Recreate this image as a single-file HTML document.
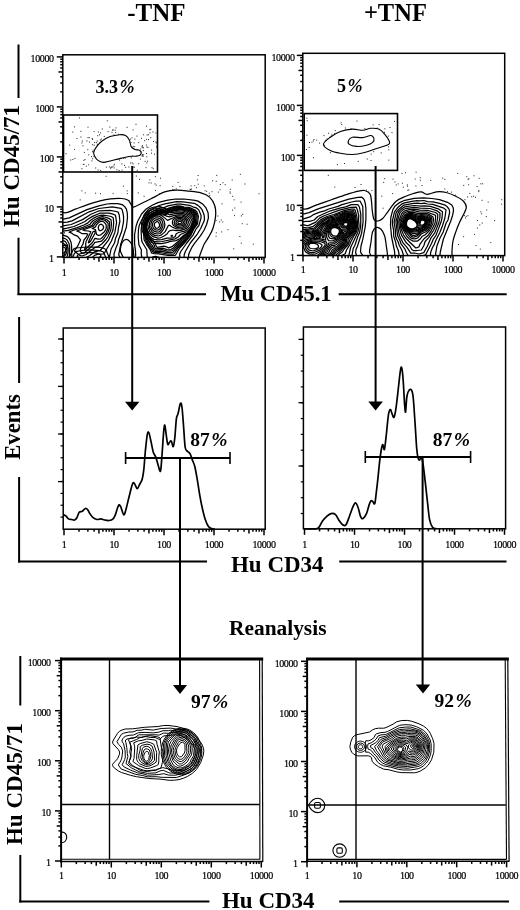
<!DOCTYPE html>
<html><head><meta charset="utf-8"><style>
html,body{margin:0;padding:0;background:#fff;width:520px;height:910px;overflow:hidden}
svg{display:block;filter:grayscale(100%)}
</style></head><body>
<svg width="520" height="910" viewBox="0 0 520 910">
<rect width="520" height="910" fill="#fff"/>
<defs><clipPath id="c1l"><rect x="62.8" y="54.8" width="202.39999999999998" height="202.59999999999997"/></clipPath><clipPath id="c1r"><rect x="302.8" y="53.3" width="201.89999999999998" height="202.3"/></clipPath><clipPath id="c3l"><rect x="61.1" y="659" width="198.50000000000003" height="200.29999999999995"/></clipPath><clipPath id="c3r"><rect x="307.1" y="659" width="198.39999999999998" height="200.39999999999998"/></clipPath></defs>
<text x="127.20" y="21.30" style="font-family:'Liberation Serif',serif;font-weight:bold;font-size:25px" text-anchor="start" >-TNF</text>
<text x="363.90" y="20.70" style="font-family:'Liberation Serif',serif;font-weight:bold;font-size:24.5px" text-anchor="start" >+TNF</text>
<line x1="18.50" y1="44.50" x2="18.50" y2="98.00" stroke="#000" stroke-width="2"/>
<line x1="18.50" y1="237.70" x2="18.50" y2="295.00" stroke="#000" stroke-width="2"/>
<line x1="17.50" y1="294.20" x2="206.00" y2="294.20" stroke="#000" stroke-width="2"/>
<line x1="338.70" y1="294.20" x2="506.70" y2="294.20" stroke="#000" stroke-width="2"/>
<text x="0" y="0" transform="translate(19.20,166.00) rotate(-90)" style="font-family:'Liberation Serif',serif;font-weight:bold;font-size:23px" text-anchor="middle">Hu CD45/71</text>
<text x="276.00" y="301.00" style="font-family:'Liberation Serif',serif;font-weight:bold;font-size:22.5px" text-anchor="middle" >Mu CD45.1</text>
<rect x="62.80" y="54.80" width="202.40" height="202.60" fill="none" stroke="#000" stroke-width="1.5"/>
<line x1="62.80" y1="256.90" x2="56.80" y2="256.90" stroke="#000" stroke-width="1.5"/>
<line x1="62.80" y1="241.85" x2="60.20" y2="241.85" stroke="#000" stroke-width="1.5"/>
<line x1="62.80" y1="233.04" x2="60.20" y2="233.04" stroke="#000" stroke-width="1.5"/>
<line x1="62.80" y1="226.80" x2="60.20" y2="226.80" stroke="#000" stroke-width="1.5"/>
<line x1="62.80" y1="221.95" x2="58.50" y2="221.95" stroke="#000" stroke-width="1.5"/>
<line x1="62.80" y1="217.99" x2="60.20" y2="217.99" stroke="#000" stroke-width="1.5"/>
<line x1="62.80" y1="214.65" x2="60.20" y2="214.65" stroke="#000" stroke-width="1.5"/>
<line x1="62.80" y1="211.75" x2="60.20" y2="211.75" stroke="#000" stroke-width="1.5"/>
<line x1="62.80" y1="209.19" x2="60.20" y2="209.19" stroke="#000" stroke-width="1.5"/>
<line x1="62.80" y1="206.90" x2="56.80" y2="206.90" stroke="#000" stroke-width="1.5"/>
<line x1="62.80" y1="191.85" x2="60.20" y2="191.85" stroke="#000" stroke-width="1.5"/>
<line x1="62.80" y1="183.04" x2="60.20" y2="183.04" stroke="#000" stroke-width="1.5"/>
<line x1="62.80" y1="176.80" x2="60.20" y2="176.80" stroke="#000" stroke-width="1.5"/>
<line x1="62.80" y1="171.95" x2="58.50" y2="171.95" stroke="#000" stroke-width="1.5"/>
<line x1="62.80" y1="167.99" x2="60.20" y2="167.99" stroke="#000" stroke-width="1.5"/>
<line x1="62.80" y1="164.65" x2="60.20" y2="164.65" stroke="#000" stroke-width="1.5"/>
<line x1="62.80" y1="161.75" x2="60.20" y2="161.75" stroke="#000" stroke-width="1.5"/>
<line x1="62.80" y1="159.19" x2="60.20" y2="159.19" stroke="#000" stroke-width="1.5"/>
<line x1="62.80" y1="156.90" x2="56.80" y2="156.90" stroke="#000" stroke-width="1.5"/>
<line x1="62.80" y1="141.85" x2="60.20" y2="141.85" stroke="#000" stroke-width="1.5"/>
<line x1="62.80" y1="133.04" x2="60.20" y2="133.04" stroke="#000" stroke-width="1.5"/>
<line x1="62.80" y1="126.80" x2="60.20" y2="126.80" stroke="#000" stroke-width="1.5"/>
<line x1="62.80" y1="121.95" x2="58.50" y2="121.95" stroke="#000" stroke-width="1.5"/>
<line x1="62.80" y1="117.99" x2="60.20" y2="117.99" stroke="#000" stroke-width="1.5"/>
<line x1="62.80" y1="114.65" x2="60.20" y2="114.65" stroke="#000" stroke-width="1.5"/>
<line x1="62.80" y1="111.75" x2="60.20" y2="111.75" stroke="#000" stroke-width="1.5"/>
<line x1="62.80" y1="109.19" x2="60.20" y2="109.19" stroke="#000" stroke-width="1.5"/>
<line x1="62.80" y1="106.90" x2="56.80" y2="106.90" stroke="#000" stroke-width="1.5"/>
<line x1="62.80" y1="91.85" x2="60.20" y2="91.85" stroke="#000" stroke-width="1.5"/>
<line x1="62.80" y1="83.04" x2="60.20" y2="83.04" stroke="#000" stroke-width="1.5"/>
<line x1="62.80" y1="76.80" x2="60.20" y2="76.80" stroke="#000" stroke-width="1.5"/>
<line x1="62.80" y1="71.95" x2="58.50" y2="71.95" stroke="#000" stroke-width="1.5"/>
<line x1="62.80" y1="67.99" x2="60.20" y2="67.99" stroke="#000" stroke-width="1.5"/>
<line x1="62.80" y1="64.65" x2="60.20" y2="64.65" stroke="#000" stroke-width="1.5"/>
<line x1="62.80" y1="61.75" x2="60.20" y2="61.75" stroke="#000" stroke-width="1.5"/>
<line x1="62.80" y1="59.19" x2="60.20" y2="59.19" stroke="#000" stroke-width="1.5"/>
<line x1="62.80" y1="56.90" x2="56.80" y2="56.90" stroke="#000" stroke-width="1.5"/>
<line x1="64.00" y1="257.40" x2="64.00" y2="263.40" stroke="#000" stroke-width="1.5"/>
<line x1="79.05" y1="257.40" x2="79.05" y2="260.00" stroke="#000" stroke-width="1.5"/>
<line x1="87.86" y1="257.40" x2="87.86" y2="260.00" stroke="#000" stroke-width="1.5"/>
<line x1="94.10" y1="257.40" x2="94.10" y2="260.00" stroke="#000" stroke-width="1.5"/>
<line x1="98.95" y1="257.40" x2="98.95" y2="261.70" stroke="#000" stroke-width="1.5"/>
<line x1="102.91" y1="257.40" x2="102.91" y2="260.00" stroke="#000" stroke-width="1.5"/>
<line x1="106.25" y1="257.40" x2="106.25" y2="260.00" stroke="#000" stroke-width="1.5"/>
<line x1="109.15" y1="257.40" x2="109.15" y2="260.00" stroke="#000" stroke-width="1.5"/>
<line x1="111.71" y1="257.40" x2="111.71" y2="260.00" stroke="#000" stroke-width="1.5"/>
<line x1="114.00" y1="257.40" x2="114.00" y2="263.40" stroke="#000" stroke-width="1.5"/>
<line x1="129.05" y1="257.40" x2="129.05" y2="260.00" stroke="#000" stroke-width="1.5"/>
<line x1="137.86" y1="257.40" x2="137.86" y2="260.00" stroke="#000" stroke-width="1.5"/>
<line x1="144.10" y1="257.40" x2="144.10" y2="260.00" stroke="#000" stroke-width="1.5"/>
<line x1="148.95" y1="257.40" x2="148.95" y2="261.70" stroke="#000" stroke-width="1.5"/>
<line x1="152.91" y1="257.40" x2="152.91" y2="260.00" stroke="#000" stroke-width="1.5"/>
<line x1="156.25" y1="257.40" x2="156.25" y2="260.00" stroke="#000" stroke-width="1.5"/>
<line x1="159.15" y1="257.40" x2="159.15" y2="260.00" stroke="#000" stroke-width="1.5"/>
<line x1="161.71" y1="257.40" x2="161.71" y2="260.00" stroke="#000" stroke-width="1.5"/>
<line x1="164.00" y1="257.40" x2="164.00" y2="263.40" stroke="#000" stroke-width="1.5"/>
<line x1="179.05" y1="257.40" x2="179.05" y2="260.00" stroke="#000" stroke-width="1.5"/>
<line x1="187.86" y1="257.40" x2="187.86" y2="260.00" stroke="#000" stroke-width="1.5"/>
<line x1="194.10" y1="257.40" x2="194.10" y2="260.00" stroke="#000" stroke-width="1.5"/>
<line x1="198.95" y1="257.40" x2="198.95" y2="261.70" stroke="#000" stroke-width="1.5"/>
<line x1="202.91" y1="257.40" x2="202.91" y2="260.00" stroke="#000" stroke-width="1.5"/>
<line x1="206.25" y1="257.40" x2="206.25" y2="260.00" stroke="#000" stroke-width="1.5"/>
<line x1="209.15" y1="257.40" x2="209.15" y2="260.00" stroke="#000" stroke-width="1.5"/>
<line x1="211.71" y1="257.40" x2="211.71" y2="260.00" stroke="#000" stroke-width="1.5"/>
<line x1="214.00" y1="257.40" x2="214.00" y2="263.40" stroke="#000" stroke-width="1.5"/>
<line x1="229.05" y1="257.40" x2="229.05" y2="260.00" stroke="#000" stroke-width="1.5"/>
<line x1="237.86" y1="257.40" x2="237.86" y2="260.00" stroke="#000" stroke-width="1.5"/>
<line x1="244.10" y1="257.40" x2="244.10" y2="260.00" stroke="#000" stroke-width="1.5"/>
<line x1="248.95" y1="257.40" x2="248.95" y2="261.70" stroke="#000" stroke-width="1.5"/>
<line x1="252.91" y1="257.40" x2="252.91" y2="260.00" stroke="#000" stroke-width="1.5"/>
<line x1="256.25" y1="257.40" x2="256.25" y2="260.00" stroke="#000" stroke-width="1.5"/>
<line x1="259.15" y1="257.40" x2="259.15" y2="260.00" stroke="#000" stroke-width="1.5"/>
<line x1="261.71" y1="257.40" x2="261.71" y2="260.00" stroke="#000" stroke-width="1.5"/>
<line x1="264.00" y1="257.40" x2="264.00" y2="263.40" stroke="#000" stroke-width="1.5"/>
<text x="53.60" y="262.40" style="font-family:'Liberation Serif',serif;font-size:10px" text-anchor="end" letter-spacing="-0.4" stroke="#000" stroke-width="0.2">1</text>
<text x="53.60" y="212.40" style="font-family:'Liberation Serif',serif;font-size:10px" text-anchor="end" letter-spacing="-0.4" stroke="#000" stroke-width="0.2">10</text>
<text x="53.60" y="162.40" style="font-family:'Liberation Serif',serif;font-size:10px" text-anchor="end" letter-spacing="-0.4" stroke="#000" stroke-width="0.2">100</text>
<text x="53.60" y="112.40" style="font-family:'Liberation Serif',serif;font-size:10px" text-anchor="end" letter-spacing="-0.4" stroke="#000" stroke-width="0.2">1000</text>
<text x="53.60" y="62.40" style="font-family:'Liberation Serif',serif;font-size:10px" text-anchor="end" letter-spacing="-0.4" stroke="#000" stroke-width="0.2">10000</text>
<text x="64.00" y="275.50" style="font-family:'Liberation Serif',serif;font-size:10px" text-anchor="middle" letter-spacing="-0.4" stroke="#000" stroke-width="0.2">1</text>
<text x="114.00" y="275.50" style="font-family:'Liberation Serif',serif;font-size:10px" text-anchor="middle" letter-spacing="-0.4" stroke="#000" stroke-width="0.2">10</text>
<text x="164.00" y="275.50" style="font-family:'Liberation Serif',serif;font-size:10px" text-anchor="middle" letter-spacing="-0.4" stroke="#000" stroke-width="0.2">100</text>
<text x="214.00" y="275.50" style="font-family:'Liberation Serif',serif;font-size:10px" text-anchor="middle" letter-spacing="-0.4" stroke="#000" stroke-width="0.2">1000</text>
<text x="264.00" y="275.50" style="font-family:'Liberation Serif',serif;font-size:10px" text-anchor="middle" letter-spacing="-0.4" stroke="#000" stroke-width="0.2">10000</text>
<rect x="63.5" y="115" width="94" height="57" fill="none" stroke="#000" stroke-width="1.6"/>
<text x="95.50" y="92.50" style="font-family:'Liberation Serif',serif;font-weight:bold;font-size:18px" text-anchor="start" >3.3<tspan dx="1.5" style="font-style:italic">%</tspan></text>
<rect x="302.80" y="53.30" width="201.90" height="202.30" fill="none" stroke="#000" stroke-width="1.5"/>
<line x1="302.80" y1="255.40" x2="296.80" y2="255.40" stroke="#000" stroke-width="1.5"/>
<line x1="302.80" y1="240.35" x2="300.20" y2="240.35" stroke="#000" stroke-width="1.5"/>
<line x1="302.80" y1="231.54" x2="300.20" y2="231.54" stroke="#000" stroke-width="1.5"/>
<line x1="302.80" y1="225.30" x2="300.20" y2="225.30" stroke="#000" stroke-width="1.5"/>
<line x1="302.80" y1="220.45" x2="298.50" y2="220.45" stroke="#000" stroke-width="1.5"/>
<line x1="302.80" y1="216.49" x2="300.20" y2="216.49" stroke="#000" stroke-width="1.5"/>
<line x1="302.80" y1="213.15" x2="300.20" y2="213.15" stroke="#000" stroke-width="1.5"/>
<line x1="302.80" y1="210.25" x2="300.20" y2="210.25" stroke="#000" stroke-width="1.5"/>
<line x1="302.80" y1="207.69" x2="300.20" y2="207.69" stroke="#000" stroke-width="1.5"/>
<line x1="302.80" y1="205.40" x2="296.80" y2="205.40" stroke="#000" stroke-width="1.5"/>
<line x1="302.80" y1="190.35" x2="300.20" y2="190.35" stroke="#000" stroke-width="1.5"/>
<line x1="302.80" y1="181.54" x2="300.20" y2="181.54" stroke="#000" stroke-width="1.5"/>
<line x1="302.80" y1="175.30" x2="300.20" y2="175.30" stroke="#000" stroke-width="1.5"/>
<line x1="302.80" y1="170.45" x2="298.50" y2="170.45" stroke="#000" stroke-width="1.5"/>
<line x1="302.80" y1="166.49" x2="300.20" y2="166.49" stroke="#000" stroke-width="1.5"/>
<line x1="302.80" y1="163.15" x2="300.20" y2="163.15" stroke="#000" stroke-width="1.5"/>
<line x1="302.80" y1="160.25" x2="300.20" y2="160.25" stroke="#000" stroke-width="1.5"/>
<line x1="302.80" y1="157.69" x2="300.20" y2="157.69" stroke="#000" stroke-width="1.5"/>
<line x1="302.80" y1="155.40" x2="296.80" y2="155.40" stroke="#000" stroke-width="1.5"/>
<line x1="302.80" y1="140.35" x2="300.20" y2="140.35" stroke="#000" stroke-width="1.5"/>
<line x1="302.80" y1="131.54" x2="300.20" y2="131.54" stroke="#000" stroke-width="1.5"/>
<line x1="302.80" y1="125.30" x2="300.20" y2="125.30" stroke="#000" stroke-width="1.5"/>
<line x1="302.80" y1="120.45" x2="298.50" y2="120.45" stroke="#000" stroke-width="1.5"/>
<line x1="302.80" y1="116.49" x2="300.20" y2="116.49" stroke="#000" stroke-width="1.5"/>
<line x1="302.80" y1="113.15" x2="300.20" y2="113.15" stroke="#000" stroke-width="1.5"/>
<line x1="302.80" y1="110.25" x2="300.20" y2="110.25" stroke="#000" stroke-width="1.5"/>
<line x1="302.80" y1="107.69" x2="300.20" y2="107.69" stroke="#000" stroke-width="1.5"/>
<line x1="302.80" y1="105.40" x2="296.80" y2="105.40" stroke="#000" stroke-width="1.5"/>
<line x1="302.80" y1="90.35" x2="300.20" y2="90.35" stroke="#000" stroke-width="1.5"/>
<line x1="302.80" y1="81.54" x2="300.20" y2="81.54" stroke="#000" stroke-width="1.5"/>
<line x1="302.80" y1="75.30" x2="300.20" y2="75.30" stroke="#000" stroke-width="1.5"/>
<line x1="302.80" y1="70.45" x2="298.50" y2="70.45" stroke="#000" stroke-width="1.5"/>
<line x1="302.80" y1="66.49" x2="300.20" y2="66.49" stroke="#000" stroke-width="1.5"/>
<line x1="302.80" y1="63.15" x2="300.20" y2="63.15" stroke="#000" stroke-width="1.5"/>
<line x1="302.80" y1="60.25" x2="300.20" y2="60.25" stroke="#000" stroke-width="1.5"/>
<line x1="302.80" y1="57.69" x2="300.20" y2="57.69" stroke="#000" stroke-width="1.5"/>
<line x1="302.80" y1="55.40" x2="296.80" y2="55.40" stroke="#000" stroke-width="1.5"/>
<line x1="303.00" y1="255.60" x2="303.00" y2="261.60" stroke="#000" stroke-width="1.5"/>
<line x1="318.05" y1="255.60" x2="318.05" y2="258.20" stroke="#000" stroke-width="1.5"/>
<line x1="326.86" y1="255.60" x2="326.86" y2="258.20" stroke="#000" stroke-width="1.5"/>
<line x1="333.10" y1="255.60" x2="333.10" y2="258.20" stroke="#000" stroke-width="1.5"/>
<line x1="337.95" y1="255.60" x2="337.95" y2="259.90" stroke="#000" stroke-width="1.5"/>
<line x1="341.91" y1="255.60" x2="341.91" y2="258.20" stroke="#000" stroke-width="1.5"/>
<line x1="345.25" y1="255.60" x2="345.25" y2="258.20" stroke="#000" stroke-width="1.5"/>
<line x1="348.15" y1="255.60" x2="348.15" y2="258.20" stroke="#000" stroke-width="1.5"/>
<line x1="350.71" y1="255.60" x2="350.71" y2="258.20" stroke="#000" stroke-width="1.5"/>
<line x1="353.00" y1="255.60" x2="353.00" y2="261.60" stroke="#000" stroke-width="1.5"/>
<line x1="368.05" y1="255.60" x2="368.05" y2="258.20" stroke="#000" stroke-width="1.5"/>
<line x1="376.86" y1="255.60" x2="376.86" y2="258.20" stroke="#000" stroke-width="1.5"/>
<line x1="383.10" y1="255.60" x2="383.10" y2="258.20" stroke="#000" stroke-width="1.5"/>
<line x1="387.95" y1="255.60" x2="387.95" y2="259.90" stroke="#000" stroke-width="1.5"/>
<line x1="391.91" y1="255.60" x2="391.91" y2="258.20" stroke="#000" stroke-width="1.5"/>
<line x1="395.25" y1="255.60" x2="395.25" y2="258.20" stroke="#000" stroke-width="1.5"/>
<line x1="398.15" y1="255.60" x2="398.15" y2="258.20" stroke="#000" stroke-width="1.5"/>
<line x1="400.71" y1="255.60" x2="400.71" y2="258.20" stroke="#000" stroke-width="1.5"/>
<line x1="403.00" y1="255.60" x2="403.00" y2="261.60" stroke="#000" stroke-width="1.5"/>
<line x1="418.05" y1="255.60" x2="418.05" y2="258.20" stroke="#000" stroke-width="1.5"/>
<line x1="426.86" y1="255.60" x2="426.86" y2="258.20" stroke="#000" stroke-width="1.5"/>
<line x1="433.10" y1="255.60" x2="433.10" y2="258.20" stroke="#000" stroke-width="1.5"/>
<line x1="437.95" y1="255.60" x2="437.95" y2="259.90" stroke="#000" stroke-width="1.5"/>
<line x1="441.91" y1="255.60" x2="441.91" y2="258.20" stroke="#000" stroke-width="1.5"/>
<line x1="445.25" y1="255.60" x2="445.25" y2="258.20" stroke="#000" stroke-width="1.5"/>
<line x1="448.15" y1="255.60" x2="448.15" y2="258.20" stroke="#000" stroke-width="1.5"/>
<line x1="450.71" y1="255.60" x2="450.71" y2="258.20" stroke="#000" stroke-width="1.5"/>
<line x1="453.00" y1="255.60" x2="453.00" y2="261.60" stroke="#000" stroke-width="1.5"/>
<line x1="468.05" y1="255.60" x2="468.05" y2="258.20" stroke="#000" stroke-width="1.5"/>
<line x1="476.86" y1="255.60" x2="476.86" y2="258.20" stroke="#000" stroke-width="1.5"/>
<line x1="483.10" y1="255.60" x2="483.10" y2="258.20" stroke="#000" stroke-width="1.5"/>
<line x1="487.95" y1="255.60" x2="487.95" y2="259.90" stroke="#000" stroke-width="1.5"/>
<line x1="491.91" y1="255.60" x2="491.91" y2="258.20" stroke="#000" stroke-width="1.5"/>
<line x1="495.25" y1="255.60" x2="495.25" y2="258.20" stroke="#000" stroke-width="1.5"/>
<line x1="498.15" y1="255.60" x2="498.15" y2="258.20" stroke="#000" stroke-width="1.5"/>
<line x1="500.71" y1="255.60" x2="500.71" y2="258.20" stroke="#000" stroke-width="1.5"/>
<line x1="503.00" y1="255.60" x2="503.00" y2="261.60" stroke="#000" stroke-width="1.5"/>
<text x="294.50" y="260.70" style="font-family:'Liberation Serif',serif;font-size:10px" text-anchor="end" letter-spacing="-0.4" stroke="#000" stroke-width="0.2">1</text>
<text x="294.50" y="210.70" style="font-family:'Liberation Serif',serif;font-size:10px" text-anchor="end" letter-spacing="-0.4" stroke="#000" stroke-width="0.2">10</text>
<text x="294.50" y="160.70" style="font-family:'Liberation Serif',serif;font-size:10px" text-anchor="end" letter-spacing="-0.4" stroke="#000" stroke-width="0.2">100</text>
<text x="294.50" y="110.70" style="font-family:'Liberation Serif',serif;font-size:10px" text-anchor="end" letter-spacing="-0.4" stroke="#000" stroke-width="0.2">1000</text>
<text x="294.50" y="60.70" style="font-family:'Liberation Serif',serif;font-size:10px" text-anchor="end" letter-spacing="-0.4" stroke="#000" stroke-width="0.2">10000</text>
<text x="303.00" y="272.80" style="font-family:'Liberation Serif',serif;font-size:10px" text-anchor="middle" letter-spacing="-0.4" stroke="#000" stroke-width="0.2">1</text>
<text x="353.00" y="272.80" style="font-family:'Liberation Serif',serif;font-size:10px" text-anchor="middle" letter-spacing="-0.4" stroke="#000" stroke-width="0.2">10</text>
<text x="403.00" y="272.80" style="font-family:'Liberation Serif',serif;font-size:10px" text-anchor="middle" letter-spacing="-0.4" stroke="#000" stroke-width="0.2">100</text>
<text x="453.00" y="272.80" style="font-family:'Liberation Serif',serif;font-size:10px" text-anchor="middle" letter-spacing="-0.4" stroke="#000" stroke-width="0.2">1000</text>
<text x="503.00" y="272.80" style="font-family:'Liberation Serif',serif;font-size:10px" text-anchor="middle" letter-spacing="-0.4" stroke="#000" stroke-width="0.2">10000</text>
<rect x="304.2" y="113.6" width="93.3" height="56.8" fill="none" stroke="#000" stroke-width="1.6"/>
<text x="337.00" y="92.00" style="font-family:'Liberation Serif',serif;font-weight:bold;font-size:18px" text-anchor="start" >5<tspan dx="1.5" style="font-style:italic">%</tspan></text>
<line x1="19.10" y1="317.00" x2="19.10" y2="383.00" stroke="#000" stroke-width="2"/>
<line x1="19.10" y1="477.00" x2="19.10" y2="562.50" stroke="#000" stroke-width="2"/>
<line x1="18.10" y1="561.60" x2="207.00" y2="561.60" stroke="#000" stroke-width="2"/>
<line x1="339.20" y1="561.60" x2="506.50" y2="561.60" stroke="#000" stroke-width="2"/>
<text x="0" y="0" transform="translate(20.00,427.00) rotate(-90)" style="font-family:'Liberation Serif',serif;font-weight:bold;font-size:22.7px" text-anchor="middle">Events</text>
<text x="277.30" y="572.00" style="font-family:'Liberation Serif',serif;font-weight:bold;font-size:23px" text-anchor="middle" >Hu CD34</text>
<rect x="63.20" y="328.00" width="202.00" height="201.20" fill="none" stroke="#000" stroke-width="1.5"/>
<line x1="63.20" y1="339.00" x2="58.00" y2="339.00" stroke="#000" stroke-width="1.3"/>
<line x1="63.20" y1="386.40" x2="58.00" y2="386.40" stroke="#000" stroke-width="1.3"/>
<line x1="63.20" y1="434.00" x2="58.00" y2="434.00" stroke="#000" stroke-width="1.3"/>
<line x1="63.20" y1="481.60" x2="58.00" y2="481.60" stroke="#000" stroke-width="1.3"/>
<line x1="63.20" y1="339.00" x2="60.50" y2="339.00" stroke="#000" stroke-width="1.2"/>
<line x1="63.20" y1="350.88" x2="60.50" y2="350.88" stroke="#000" stroke-width="1.2"/>
<line x1="63.20" y1="362.75" x2="60.50" y2="362.75" stroke="#000" stroke-width="1.2"/>
<line x1="63.20" y1="374.62" x2="60.50" y2="374.62" stroke="#000" stroke-width="1.2"/>
<line x1="63.20" y1="386.50" x2="60.50" y2="386.50" stroke="#000" stroke-width="1.2"/>
<line x1="63.20" y1="398.38" x2="60.50" y2="398.38" stroke="#000" stroke-width="1.2"/>
<line x1="63.20" y1="410.25" x2="60.50" y2="410.25" stroke="#000" stroke-width="1.2"/>
<line x1="63.20" y1="422.12" x2="60.50" y2="422.12" stroke="#000" stroke-width="1.2"/>
<line x1="63.20" y1="434.00" x2="60.50" y2="434.00" stroke="#000" stroke-width="1.2"/>
<line x1="63.20" y1="445.88" x2="60.50" y2="445.88" stroke="#000" stroke-width="1.2"/>
<line x1="63.20" y1="457.75" x2="60.50" y2="457.75" stroke="#000" stroke-width="1.2"/>
<line x1="63.20" y1="469.62" x2="60.50" y2="469.62" stroke="#000" stroke-width="1.2"/>
<line x1="63.20" y1="481.50" x2="60.50" y2="481.50" stroke="#000" stroke-width="1.2"/>
<line x1="63.20" y1="493.38" x2="60.50" y2="493.38" stroke="#000" stroke-width="1.2"/>
<line x1="63.20" y1="505.25" x2="60.50" y2="505.25" stroke="#000" stroke-width="1.2"/>
<line x1="63.20" y1="517.12" x2="60.50" y2="517.12" stroke="#000" stroke-width="1.2"/>
<line x1="64.00" y1="529.20" x2="64.00" y2="535.20" stroke="#000" stroke-width="1.5"/>
<line x1="79.05" y1="529.20" x2="79.05" y2="531.80" stroke="#000" stroke-width="1.5"/>
<line x1="87.86" y1="529.20" x2="87.86" y2="531.80" stroke="#000" stroke-width="1.5"/>
<line x1="94.10" y1="529.20" x2="94.10" y2="531.80" stroke="#000" stroke-width="1.5"/>
<line x1="98.95" y1="529.20" x2="98.95" y2="533.50" stroke="#000" stroke-width="1.5"/>
<line x1="102.91" y1="529.20" x2="102.91" y2="531.80" stroke="#000" stroke-width="1.5"/>
<line x1="106.25" y1="529.20" x2="106.25" y2="531.80" stroke="#000" stroke-width="1.5"/>
<line x1="109.15" y1="529.20" x2="109.15" y2="531.80" stroke="#000" stroke-width="1.5"/>
<line x1="111.71" y1="529.20" x2="111.71" y2="531.80" stroke="#000" stroke-width="1.5"/>
<line x1="114.00" y1="529.20" x2="114.00" y2="535.20" stroke="#000" stroke-width="1.5"/>
<line x1="129.05" y1="529.20" x2="129.05" y2="531.80" stroke="#000" stroke-width="1.5"/>
<line x1="137.86" y1="529.20" x2="137.86" y2="531.80" stroke="#000" stroke-width="1.5"/>
<line x1="144.10" y1="529.20" x2="144.10" y2="531.80" stroke="#000" stroke-width="1.5"/>
<line x1="148.95" y1="529.20" x2="148.95" y2="533.50" stroke="#000" stroke-width="1.5"/>
<line x1="152.91" y1="529.20" x2="152.91" y2="531.80" stroke="#000" stroke-width="1.5"/>
<line x1="156.25" y1="529.20" x2="156.25" y2="531.80" stroke="#000" stroke-width="1.5"/>
<line x1="159.15" y1="529.20" x2="159.15" y2="531.80" stroke="#000" stroke-width="1.5"/>
<line x1="161.71" y1="529.20" x2="161.71" y2="531.80" stroke="#000" stroke-width="1.5"/>
<line x1="164.00" y1="529.20" x2="164.00" y2="535.20" stroke="#000" stroke-width="1.5"/>
<line x1="179.05" y1="529.20" x2="179.05" y2="531.80" stroke="#000" stroke-width="1.5"/>
<line x1="187.86" y1="529.20" x2="187.86" y2="531.80" stroke="#000" stroke-width="1.5"/>
<line x1="194.10" y1="529.20" x2="194.10" y2="531.80" stroke="#000" stroke-width="1.5"/>
<line x1="198.95" y1="529.20" x2="198.95" y2="533.50" stroke="#000" stroke-width="1.5"/>
<line x1="202.91" y1="529.20" x2="202.91" y2="531.80" stroke="#000" stroke-width="1.5"/>
<line x1="206.25" y1="529.20" x2="206.25" y2="531.80" stroke="#000" stroke-width="1.5"/>
<line x1="209.15" y1="529.20" x2="209.15" y2="531.80" stroke="#000" stroke-width="1.5"/>
<line x1="211.71" y1="529.20" x2="211.71" y2="531.80" stroke="#000" stroke-width="1.5"/>
<line x1="214.00" y1="529.20" x2="214.00" y2="535.20" stroke="#000" stroke-width="1.5"/>
<line x1="229.05" y1="529.20" x2="229.05" y2="531.80" stroke="#000" stroke-width="1.5"/>
<line x1="237.86" y1="529.20" x2="237.86" y2="531.80" stroke="#000" stroke-width="1.5"/>
<line x1="244.10" y1="529.20" x2="244.10" y2="531.80" stroke="#000" stroke-width="1.5"/>
<line x1="248.95" y1="529.20" x2="248.95" y2="533.50" stroke="#000" stroke-width="1.5"/>
<line x1="252.91" y1="529.20" x2="252.91" y2="531.80" stroke="#000" stroke-width="1.5"/>
<line x1="256.25" y1="529.20" x2="256.25" y2="531.80" stroke="#000" stroke-width="1.5"/>
<line x1="259.15" y1="529.20" x2="259.15" y2="531.80" stroke="#000" stroke-width="1.5"/>
<line x1="261.71" y1="529.20" x2="261.71" y2="531.80" stroke="#000" stroke-width="1.5"/>
<line x1="264.00" y1="529.20" x2="264.00" y2="535.20" stroke="#000" stroke-width="1.5"/>
<text x="64.00" y="548.00" style="font-family:'Liberation Serif',serif;font-size:10px" text-anchor="middle" letter-spacing="-0.4" stroke="#000" stroke-width="0.2">1</text>
<text x="114.00" y="548.00" style="font-family:'Liberation Serif',serif;font-size:10px" text-anchor="middle" letter-spacing="-0.4" stroke="#000" stroke-width="0.2">10</text>
<text x="164.00" y="548.00" style="font-family:'Liberation Serif',serif;font-size:10px" text-anchor="middle" letter-spacing="-0.4" stroke="#000" stroke-width="0.2">100</text>
<text x="214.00" y="548.00" style="font-family:'Liberation Serif',serif;font-size:10px" text-anchor="middle" letter-spacing="-0.4" stroke="#000" stroke-width="0.2">1000</text>
<text x="264.00" y="548.00" style="font-family:'Liberation Serif',serif;font-size:10px" text-anchor="middle" letter-spacing="-0.4" stroke="#000" stroke-width="0.2">10000</text>
<rect x="303.40" y="327.00" width="202.20" height="201.80" fill="none" stroke="#000" stroke-width="1.5"/>
<line x1="303.40" y1="339.40" x2="298.50" y2="339.40" stroke="#000" stroke-width="1.3"/>
<line x1="303.40" y1="402.70" x2="298.50" y2="402.70" stroke="#000" stroke-width="1.3"/>
<line x1="303.40" y1="466.00" x2="298.50" y2="466.00" stroke="#000" stroke-width="1.3"/>
<line x1="303.40" y1="339.40" x2="300.80" y2="339.40" stroke="#000" stroke-width="1.2"/>
<line x1="303.40" y1="355.23" x2="300.80" y2="355.23" stroke="#000" stroke-width="1.2"/>
<line x1="303.40" y1="371.06" x2="300.80" y2="371.06" stroke="#000" stroke-width="1.2"/>
<line x1="303.40" y1="386.89" x2="300.80" y2="386.89" stroke="#000" stroke-width="1.2"/>
<line x1="303.40" y1="402.72" x2="300.80" y2="402.72" stroke="#000" stroke-width="1.2"/>
<line x1="303.40" y1="418.55" x2="300.80" y2="418.55" stroke="#000" stroke-width="1.2"/>
<line x1="303.40" y1="434.38" x2="300.80" y2="434.38" stroke="#000" stroke-width="1.2"/>
<line x1="303.40" y1="450.21" x2="300.80" y2="450.21" stroke="#000" stroke-width="1.2"/>
<line x1="303.40" y1="466.04" x2="300.80" y2="466.04" stroke="#000" stroke-width="1.2"/>
<line x1="303.40" y1="481.87" x2="300.80" y2="481.87" stroke="#000" stroke-width="1.2"/>
<line x1="303.40" y1="497.70" x2="300.80" y2="497.70" stroke="#000" stroke-width="1.2"/>
<line x1="303.40" y1="513.53" x2="300.80" y2="513.53" stroke="#000" stroke-width="1.2"/>
<line x1="304.50" y1="528.80" x2="304.50" y2="534.80" stroke="#000" stroke-width="1.5"/>
<line x1="319.55" y1="528.80" x2="319.55" y2="531.40" stroke="#000" stroke-width="1.5"/>
<line x1="328.36" y1="528.80" x2="328.36" y2="531.40" stroke="#000" stroke-width="1.5"/>
<line x1="334.60" y1="528.80" x2="334.60" y2="531.40" stroke="#000" stroke-width="1.5"/>
<line x1="339.45" y1="528.80" x2="339.45" y2="533.10" stroke="#000" stroke-width="1.5"/>
<line x1="343.41" y1="528.80" x2="343.41" y2="531.40" stroke="#000" stroke-width="1.5"/>
<line x1="346.75" y1="528.80" x2="346.75" y2="531.40" stroke="#000" stroke-width="1.5"/>
<line x1="349.65" y1="528.80" x2="349.65" y2="531.40" stroke="#000" stroke-width="1.5"/>
<line x1="352.21" y1="528.80" x2="352.21" y2="531.40" stroke="#000" stroke-width="1.5"/>
<line x1="354.50" y1="528.80" x2="354.50" y2="534.80" stroke="#000" stroke-width="1.5"/>
<line x1="369.55" y1="528.80" x2="369.55" y2="531.40" stroke="#000" stroke-width="1.5"/>
<line x1="378.36" y1="528.80" x2="378.36" y2="531.40" stroke="#000" stroke-width="1.5"/>
<line x1="384.60" y1="528.80" x2="384.60" y2="531.40" stroke="#000" stroke-width="1.5"/>
<line x1="389.45" y1="528.80" x2="389.45" y2="533.10" stroke="#000" stroke-width="1.5"/>
<line x1="393.41" y1="528.80" x2="393.41" y2="531.40" stroke="#000" stroke-width="1.5"/>
<line x1="396.75" y1="528.80" x2="396.75" y2="531.40" stroke="#000" stroke-width="1.5"/>
<line x1="399.65" y1="528.80" x2="399.65" y2="531.40" stroke="#000" stroke-width="1.5"/>
<line x1="402.21" y1="528.80" x2="402.21" y2="531.40" stroke="#000" stroke-width="1.5"/>
<line x1="404.50" y1="528.80" x2="404.50" y2="534.80" stroke="#000" stroke-width="1.5"/>
<line x1="419.55" y1="528.80" x2="419.55" y2="531.40" stroke="#000" stroke-width="1.5"/>
<line x1="428.36" y1="528.80" x2="428.36" y2="531.40" stroke="#000" stroke-width="1.5"/>
<line x1="434.60" y1="528.80" x2="434.60" y2="531.40" stroke="#000" stroke-width="1.5"/>
<line x1="439.45" y1="528.80" x2="439.45" y2="533.10" stroke="#000" stroke-width="1.5"/>
<line x1="443.41" y1="528.80" x2="443.41" y2="531.40" stroke="#000" stroke-width="1.5"/>
<line x1="446.75" y1="528.80" x2="446.75" y2="531.40" stroke="#000" stroke-width="1.5"/>
<line x1="449.65" y1="528.80" x2="449.65" y2="531.40" stroke="#000" stroke-width="1.5"/>
<line x1="452.21" y1="528.80" x2="452.21" y2="531.40" stroke="#000" stroke-width="1.5"/>
<line x1="454.50" y1="528.80" x2="454.50" y2="534.80" stroke="#000" stroke-width="1.5"/>
<line x1="469.55" y1="528.80" x2="469.55" y2="531.40" stroke="#000" stroke-width="1.5"/>
<line x1="478.36" y1="528.80" x2="478.36" y2="531.40" stroke="#000" stroke-width="1.5"/>
<line x1="484.60" y1="528.80" x2="484.60" y2="531.40" stroke="#000" stroke-width="1.5"/>
<line x1="489.45" y1="528.80" x2="489.45" y2="533.10" stroke="#000" stroke-width="1.5"/>
<line x1="493.41" y1="528.80" x2="493.41" y2="531.40" stroke="#000" stroke-width="1.5"/>
<line x1="496.75" y1="528.80" x2="496.75" y2="531.40" stroke="#000" stroke-width="1.5"/>
<line x1="499.65" y1="528.80" x2="499.65" y2="531.40" stroke="#000" stroke-width="1.5"/>
<line x1="502.21" y1="528.80" x2="502.21" y2="531.40" stroke="#000" stroke-width="1.5"/>
<line x1="504.50" y1="528.80" x2="504.50" y2="534.80" stroke="#000" stroke-width="1.5"/>
<text x="304.50" y="548.00" style="font-family:'Liberation Serif',serif;font-size:10px" text-anchor="middle" letter-spacing="-0.4" stroke="#000" stroke-width="0.2">1</text>
<text x="354.50" y="548.00" style="font-family:'Liberation Serif',serif;font-size:10px" text-anchor="middle" letter-spacing="-0.4" stroke="#000" stroke-width="0.2">10</text>
<text x="404.50" y="548.00" style="font-family:'Liberation Serif',serif;font-size:10px" text-anchor="middle" letter-spacing="-0.4" stroke="#000" stroke-width="0.2">100</text>
<text x="454.50" y="548.00" style="font-family:'Liberation Serif',serif;font-size:10px" text-anchor="middle" letter-spacing="-0.4" stroke="#000" stroke-width="0.2">1000</text>
<text x="504.50" y="548.00" style="font-family:'Liberation Serif',serif;font-size:10px" text-anchor="middle" letter-spacing="-0.4" stroke="#000" stroke-width="0.2">10000</text>
<path d="M63.80,514.60 C64.20,514.87 65.42,515.48 66.20,516.20 C66.98,516.92 67.62,518.35 68.50,518.90 C69.38,519.45 70.48,519.32 71.50,519.50 C72.52,519.68 73.70,520.30 74.60,520.00 C75.50,519.70 76.13,518.98 76.90,517.70 C77.67,516.42 78.30,513.38 79.20,512.30 C80.10,511.22 81.27,511.83 82.30,511.20 C83.33,510.57 84.50,508.75 85.40,508.50 C86.30,508.25 86.93,508.82 87.70,509.70 C88.47,510.58 89.10,512.47 90.00,513.80 C90.90,515.13 91.95,516.75 93.10,517.70 C94.25,518.65 95.62,519.30 96.90,519.50 C98.18,519.70 99.52,518.82 100.80,518.90 C102.08,518.98 103.20,519.73 104.60,520.00 C106.00,520.27 107.78,520.68 109.20,520.50 C110.62,520.32 112.07,519.88 113.10,518.90 C114.13,517.92 114.50,516.85 115.40,514.60 C116.30,512.35 117.60,506.68 118.50,505.40 C119.40,504.12 119.92,505.32 120.80,506.90 C121.68,508.48 122.90,514.63 123.80,514.90 C124.70,515.17 125.30,511.62 126.20,508.50 C127.10,505.38 128.18,500.18 129.20,496.20 C130.22,492.22 131.47,486.78 132.30,484.60 C133.13,482.42 133.38,482.43 134.20,483.10 C135.02,483.77 136.27,488.45 137.20,488.60 C138.13,488.75 138.97,485.57 139.80,484.00 C140.63,482.43 141.53,481.58 142.20,479.20 C142.87,476.82 143.27,474.47 143.80,469.70 C144.33,464.93 144.80,456.58 145.40,450.60 C146.00,444.62 146.80,436.73 147.40,433.80 C148.00,430.87 148.42,431.80 149.00,433.00 C149.58,434.20 150.18,437.80 150.90,441.00 C151.62,444.20 152.50,449.55 153.30,452.20 C154.10,454.85 154.90,454.78 155.70,456.90 C156.50,459.02 157.43,462.63 158.10,464.90 C158.77,467.17 159.25,469.70 159.70,470.50 C160.15,471.30 160.40,472.50 160.80,469.70 C161.20,466.90 161.62,460.08 162.10,453.70 C162.58,447.32 163.25,436.17 163.70,431.40 C164.15,426.63 164.40,424.70 164.80,425.10 C165.20,425.50 165.62,430.62 166.10,433.80 C166.58,436.98 167.17,442.73 167.70,444.20 C168.23,445.67 168.70,443.13 169.30,442.60 C169.90,442.07 170.65,440.33 171.30,441.00 C171.95,441.67 172.62,447.13 173.20,446.60 C173.78,446.07 174.27,442.45 174.80,437.80 C175.33,433.15 175.87,422.68 176.40,418.70 C176.93,414.72 177.33,416.43 178.00,413.90 C178.67,411.37 179.73,404.57 180.40,403.50 C181.07,402.43 181.47,403.63 182.00,407.50 C182.53,411.37 183.07,420.05 183.60,426.70 C184.13,433.35 184.53,443.28 185.20,447.40 C185.87,451.52 186.80,450.35 187.60,451.40 C188.40,452.45 189.20,452.25 190.00,453.70 C190.80,455.15 191.60,457.97 192.40,460.10 C193.20,462.23 194.00,463.32 194.80,466.50 C195.60,469.68 196.42,474.68 197.20,479.20 C197.98,483.72 198.72,489.08 199.50,493.60 C200.28,498.12 200.97,502.05 201.90,506.30 C202.83,510.55 204.03,515.77 205.10,519.10 C206.17,522.43 207.23,524.72 208.30,526.30 C209.37,527.88 210.43,528.12 211.50,528.60 C212.57,529.08 214.17,529.10 214.70,529.20" fill="none" stroke="#000" stroke-width="1.7" stroke-linejoin="round"/>
<path d="M304.30,528.80 C306.18,528.80 313.15,529.08 315.60,528.80 C318.05,528.52 317.85,528.40 319.00,527.10 C320.15,525.80 321.20,522.78 322.50,521.00 C323.80,519.22 325.37,517.63 326.80,516.40 C328.23,515.17 329.65,513.90 331.10,513.60 C332.55,513.30 334.20,513.50 335.50,514.60 C336.80,515.70 337.75,518.55 338.90,520.20 C340.05,521.85 341.25,523.70 342.40,524.50 C343.55,525.30 344.65,526.30 345.80,525.00 C346.95,523.70 348.13,519.67 349.30,516.70 C350.47,513.73 351.78,509.50 352.80,507.20 C353.82,504.90 354.53,502.90 355.40,502.90 C356.27,502.90 357.13,504.90 358.00,507.20 C358.87,509.50 359.75,514.83 360.60,516.70 C361.45,518.57 362.10,518.97 363.10,518.40 C364.10,517.83 365.58,515.60 366.60,513.30 C367.62,511.00 368.48,506.68 369.20,504.60 C369.92,502.52 370.32,501.32 370.90,500.80 C371.48,500.28 372.07,501.02 372.70,501.50 C373.33,501.98 374.13,504.92 374.70,503.70 C375.27,502.48 375.57,498.37 376.10,494.20 C376.63,490.03 377.32,484.08 377.90,478.70 C378.48,473.32 379.00,466.93 379.60,461.90 C380.20,456.87 380.95,451.38 381.50,448.50 C382.05,445.62 382.42,444.45 382.90,444.60 C383.38,444.75 383.83,451.00 384.40,449.40 C384.97,447.80 385.65,440.60 386.30,435.00 C386.95,429.40 387.65,420.03 388.30,415.80 C388.95,411.57 389.57,409.93 390.20,409.60 C390.83,409.27 391.47,412.52 392.10,413.80 C392.73,415.08 393.35,418.25 394.00,417.30 C394.65,416.35 395.25,413.17 396.00,408.10 C396.75,403.03 397.77,393.15 398.50,386.90 C399.23,380.65 399.87,373.80 400.40,370.60 C400.93,367.40 401.25,366.27 401.70,367.70 C402.15,369.13 402.62,373.12 403.10,379.20 C403.58,385.28 404.18,398.75 404.60,404.20 C405.02,409.65 405.22,413.18 405.60,411.90 C405.98,410.62 406.27,400.18 406.90,396.50 C407.53,392.82 408.57,390.75 409.40,389.80 C410.23,388.85 411.25,389.35 411.90,390.80 C412.55,392.25 412.75,392.73 413.30,398.50 C413.85,404.27 414.63,417.07 415.20,425.40 C415.77,433.73 416.22,443.05 416.70,448.50 C417.18,453.95 417.62,456.18 418.10,458.10 C418.58,460.02 419.12,460.17 419.60,460.00 C420.08,459.83 420.55,457.10 421.00,457.10 C421.45,457.10 421.83,457.92 422.30,460.00 C422.77,462.08 423.22,465.12 423.80,469.60 C424.38,474.08 425.15,481.13 425.80,486.90 C426.45,492.67 427.07,498.75 427.70,504.20 C428.33,509.65 428.80,515.75 429.60,519.60 C430.40,523.45 431.38,525.77 432.50,527.30 C433.62,528.83 435.67,528.55 436.30,528.80" fill="none" stroke="#000" stroke-width="1.7" stroke-linejoin="round"/>
<line x1="125.60" y1="458.00" x2="230.00" y2="458.00" stroke="#000" stroke-width="2"/>
<line x1="125.60" y1="452.00" x2="125.60" y2="464.00" stroke="#000" stroke-width="1.6"/>
<line x1="230.00" y1="452.00" x2="230.00" y2="464.00" stroke="#000" stroke-width="1.6"/>
<text x="190.30" y="446.30" style="font-family:'Liberation Serif',serif;font-weight:bold;font-size:19.5px" text-anchor="start" >87<tspan dx="1.5" style="font-style:italic">%</tspan></text>
<line x1="365.30" y1="457.00" x2="470.60" y2="457.00" stroke="#000" stroke-width="2"/>
<line x1="365.30" y1="451.00" x2="365.30" y2="463.00" stroke="#000" stroke-width="1.6"/>
<line x1="470.60" y1="451.00" x2="470.60" y2="463.00" stroke="#000" stroke-width="1.6"/>
<text x="432.70" y="445.80" style="font-family:'Liberation Serif',serif;font-weight:bold;font-size:19.5px" text-anchor="start" >87<tspan dx="1.5" style="font-style:italic">%</tspan></text>
<line x1="132.20" y1="166.00" x2="132.20" y2="403.00" stroke="#000" stroke-width="2"/>
<path d="M125.00,401.80 L139.40,401.80 L132.20,410.60Z" fill="#000"/>
<line x1="375.60" y1="166.00" x2="375.60" y2="403.00" stroke="#000" stroke-width="2"/>
<path d="M368.30,401.60 L382.90,401.60 L375.60,410.60Z" fill="#000"/>
<line x1="180.00" y1="457.50" x2="180.00" y2="686.00" stroke="#000" stroke-width="2"/>
<path d="M172.90,685.10 L187.10,685.10 L180.00,693.90Z" fill="#000"/>
<line x1="422.60" y1="457.00" x2="422.60" y2="685.00" stroke="#000" stroke-width="2"/>
<path d="M415.80,684.40 L430.20,684.40 L423.00,693.60Z" fill="#000"/>
<text x="229.00" y="634.80" style="font-family:'Liberation Serif',serif;font-weight:bold;font-size:21.4px" text-anchor="start" >Reanalysis</text>
<line x1="20.30" y1="656.00" x2="20.30" y2="705.50" stroke="#000" stroke-width="2"/>
<line x1="20.30" y1="855.00" x2="20.30" y2="902.50" stroke="#000" stroke-width="2"/>
<line x1="19.30" y1="901.60" x2="209.40" y2="901.60" stroke="#000" stroke-width="2"/>
<line x1="339.20" y1="901.60" x2="509.00" y2="901.60" stroke="#000" stroke-width="2"/>
<text x="0" y="0" transform="translate(21.50,784.00) rotate(-90)" style="font-family:'Liberation Serif',serif;font-weight:bold;font-size:23px" text-anchor="middle">Hu CD45/71</text>
<text x="268.30" y="908.00" style="font-family:'Liberation Serif',serif;font-weight:bold;font-size:23px" text-anchor="middle" >Hu CD34</text>
<line x1="61.10" y1="657.60" x2="61.10" y2="862.50" stroke="#000" stroke-width="2"/>
<line x1="60.00" y1="659.00" x2="263.20" y2="659.00" stroke="#000" stroke-width="2.8"/>
<line x1="259.60" y1="659.00" x2="259.90" y2="859.50" stroke="#000" stroke-width="1.1"/>
<line x1="262.20" y1="658.00" x2="262.80" y2="862.00" stroke="#000" stroke-width="1.2"/>
<line x1="61.00" y1="859.30" x2="259.90" y2="859.30" stroke="#000" stroke-width="1.1"/>
<line x1="60.00" y1="861.50" x2="262.80" y2="861.50" stroke="#000" stroke-width="1.4"/>
<line x1="61.00" y1="861.00" x2="55.00" y2="861.00" stroke="#000" stroke-width="1.5"/>
<line x1="61.00" y1="845.92" x2="58.40" y2="845.92" stroke="#000" stroke-width="1.5"/>
<line x1="61.00" y1="837.10" x2="58.40" y2="837.10" stroke="#000" stroke-width="1.5"/>
<line x1="61.00" y1="830.84" x2="58.40" y2="830.84" stroke="#000" stroke-width="1.5"/>
<line x1="61.00" y1="825.98" x2="56.70" y2="825.98" stroke="#000" stroke-width="1.5"/>
<line x1="61.00" y1="822.01" x2="58.40" y2="822.01" stroke="#000" stroke-width="1.5"/>
<line x1="61.00" y1="818.66" x2="58.40" y2="818.66" stroke="#000" stroke-width="1.5"/>
<line x1="61.00" y1="815.76" x2="58.40" y2="815.76" stroke="#000" stroke-width="1.5"/>
<line x1="61.00" y1="813.19" x2="58.40" y2="813.19" stroke="#000" stroke-width="1.5"/>
<line x1="61.00" y1="810.90" x2="55.00" y2="810.90" stroke="#000" stroke-width="1.5"/>
<line x1="61.00" y1="795.82" x2="58.40" y2="795.82" stroke="#000" stroke-width="1.5"/>
<line x1="61.00" y1="787.00" x2="58.40" y2="787.00" stroke="#000" stroke-width="1.5"/>
<line x1="61.00" y1="780.74" x2="58.40" y2="780.74" stroke="#000" stroke-width="1.5"/>
<line x1="61.00" y1="775.88" x2="56.70" y2="775.88" stroke="#000" stroke-width="1.5"/>
<line x1="61.00" y1="771.91" x2="58.40" y2="771.91" stroke="#000" stroke-width="1.5"/>
<line x1="61.00" y1="768.56" x2="58.40" y2="768.56" stroke="#000" stroke-width="1.5"/>
<line x1="61.00" y1="765.66" x2="58.40" y2="765.66" stroke="#000" stroke-width="1.5"/>
<line x1="61.00" y1="763.09" x2="58.40" y2="763.09" stroke="#000" stroke-width="1.5"/>
<line x1="61.00" y1="760.80" x2="55.00" y2="760.80" stroke="#000" stroke-width="1.5"/>
<line x1="61.00" y1="745.72" x2="58.40" y2="745.72" stroke="#000" stroke-width="1.5"/>
<line x1="61.00" y1="736.90" x2="58.40" y2="736.90" stroke="#000" stroke-width="1.5"/>
<line x1="61.00" y1="730.64" x2="58.40" y2="730.64" stroke="#000" stroke-width="1.5"/>
<line x1="61.00" y1="725.78" x2="56.70" y2="725.78" stroke="#000" stroke-width="1.5"/>
<line x1="61.00" y1="721.81" x2="58.40" y2="721.81" stroke="#000" stroke-width="1.5"/>
<line x1="61.00" y1="718.46" x2="58.40" y2="718.46" stroke="#000" stroke-width="1.5"/>
<line x1="61.00" y1="715.56" x2="58.40" y2="715.56" stroke="#000" stroke-width="1.5"/>
<line x1="61.00" y1="712.99" x2="58.40" y2="712.99" stroke="#000" stroke-width="1.5"/>
<line x1="61.00" y1="710.70" x2="55.00" y2="710.70" stroke="#000" stroke-width="1.5"/>
<line x1="61.00" y1="695.62" x2="58.40" y2="695.62" stroke="#000" stroke-width="1.5"/>
<line x1="61.00" y1="686.80" x2="58.40" y2="686.80" stroke="#000" stroke-width="1.5"/>
<line x1="61.00" y1="680.54" x2="58.40" y2="680.54" stroke="#000" stroke-width="1.5"/>
<line x1="61.00" y1="675.68" x2="56.70" y2="675.68" stroke="#000" stroke-width="1.5"/>
<line x1="61.00" y1="671.71" x2="58.40" y2="671.71" stroke="#000" stroke-width="1.5"/>
<line x1="61.00" y1="668.36" x2="58.40" y2="668.36" stroke="#000" stroke-width="1.5"/>
<line x1="61.00" y1="665.46" x2="58.40" y2="665.46" stroke="#000" stroke-width="1.5"/>
<line x1="61.00" y1="662.89" x2="58.40" y2="662.89" stroke="#000" stroke-width="1.5"/>
<line x1="61.00" y1="660.60" x2="55.00" y2="660.60" stroke="#000" stroke-width="1.5"/>
<line x1="61.30" y1="861.50" x2="61.30" y2="867.50" stroke="#000" stroke-width="1.5"/>
<line x1="76.35" y1="861.50" x2="76.35" y2="864.10" stroke="#000" stroke-width="1.5"/>
<line x1="85.16" y1="861.50" x2="85.16" y2="864.10" stroke="#000" stroke-width="1.5"/>
<line x1="91.40" y1="861.50" x2="91.40" y2="864.10" stroke="#000" stroke-width="1.5"/>
<line x1="96.25" y1="861.50" x2="96.25" y2="865.80" stroke="#000" stroke-width="1.5"/>
<line x1="100.21" y1="861.50" x2="100.21" y2="864.10" stroke="#000" stroke-width="1.5"/>
<line x1="103.55" y1="861.50" x2="103.55" y2="864.10" stroke="#000" stroke-width="1.5"/>
<line x1="106.45" y1="861.50" x2="106.45" y2="864.10" stroke="#000" stroke-width="1.5"/>
<line x1="109.01" y1="861.50" x2="109.01" y2="864.10" stroke="#000" stroke-width="1.5"/>
<line x1="111.30" y1="861.50" x2="111.30" y2="867.50" stroke="#000" stroke-width="1.5"/>
<line x1="126.35" y1="861.50" x2="126.35" y2="864.10" stroke="#000" stroke-width="1.5"/>
<line x1="135.16" y1="861.50" x2="135.16" y2="864.10" stroke="#000" stroke-width="1.5"/>
<line x1="141.40" y1="861.50" x2="141.40" y2="864.10" stroke="#000" stroke-width="1.5"/>
<line x1="146.25" y1="861.50" x2="146.25" y2="865.80" stroke="#000" stroke-width="1.5"/>
<line x1="150.21" y1="861.50" x2="150.21" y2="864.10" stroke="#000" stroke-width="1.5"/>
<line x1="153.55" y1="861.50" x2="153.55" y2="864.10" stroke="#000" stroke-width="1.5"/>
<line x1="156.45" y1="861.50" x2="156.45" y2="864.10" stroke="#000" stroke-width="1.5"/>
<line x1="159.01" y1="861.50" x2="159.01" y2="864.10" stroke="#000" stroke-width="1.5"/>
<line x1="161.30" y1="861.50" x2="161.30" y2="867.50" stroke="#000" stroke-width="1.5"/>
<line x1="176.35" y1="861.50" x2="176.35" y2="864.10" stroke="#000" stroke-width="1.5"/>
<line x1="185.16" y1="861.50" x2="185.16" y2="864.10" stroke="#000" stroke-width="1.5"/>
<line x1="191.40" y1="861.50" x2="191.40" y2="864.10" stroke="#000" stroke-width="1.5"/>
<line x1="196.25" y1="861.50" x2="196.25" y2="865.80" stroke="#000" stroke-width="1.5"/>
<line x1="200.21" y1="861.50" x2="200.21" y2="864.10" stroke="#000" stroke-width="1.5"/>
<line x1="203.55" y1="861.50" x2="203.55" y2="864.10" stroke="#000" stroke-width="1.5"/>
<line x1="206.45" y1="861.50" x2="206.45" y2="864.10" stroke="#000" stroke-width="1.5"/>
<line x1="209.01" y1="861.50" x2="209.01" y2="864.10" stroke="#000" stroke-width="1.5"/>
<line x1="211.30" y1="861.50" x2="211.30" y2="867.50" stroke="#000" stroke-width="1.5"/>
<line x1="226.35" y1="861.50" x2="226.35" y2="864.10" stroke="#000" stroke-width="1.5"/>
<line x1="235.16" y1="861.50" x2="235.16" y2="864.10" stroke="#000" stroke-width="1.5"/>
<line x1="241.40" y1="861.50" x2="241.40" y2="864.10" stroke="#000" stroke-width="1.5"/>
<line x1="246.25" y1="861.50" x2="246.25" y2="865.80" stroke="#000" stroke-width="1.5"/>
<line x1="250.21" y1="861.50" x2="250.21" y2="864.10" stroke="#000" stroke-width="1.5"/>
<line x1="253.55" y1="861.50" x2="253.55" y2="864.10" stroke="#000" stroke-width="1.5"/>
<line x1="256.45" y1="861.50" x2="256.45" y2="864.10" stroke="#000" stroke-width="1.5"/>
<line x1="259.01" y1="861.50" x2="259.01" y2="864.10" stroke="#000" stroke-width="1.5"/>
<line x1="261.30" y1="861.50" x2="261.30" y2="867.50" stroke="#000" stroke-width="1.5"/>
<text x="50.70" y="866.40" style="font-family:'Liberation Serif',serif;font-size:10px" text-anchor="end" letter-spacing="-0.4" stroke="#000" stroke-width="0.2">1</text>
<text x="50.70" y="816.30" style="font-family:'Liberation Serif',serif;font-size:10px" text-anchor="end" letter-spacing="-0.4" stroke="#000" stroke-width="0.2">10</text>
<text x="50.70" y="766.20" style="font-family:'Liberation Serif',serif;font-size:10px" text-anchor="end" letter-spacing="-0.4" stroke="#000" stroke-width="0.2">100</text>
<text x="50.70" y="716.10" style="font-family:'Liberation Serif',serif;font-size:10px" text-anchor="end" letter-spacing="-0.4" stroke="#000" stroke-width="0.2">1000</text>
<text x="50.70" y="666.00" style="font-family:'Liberation Serif',serif;font-size:10px" text-anchor="end" letter-spacing="-0.4" stroke="#000" stroke-width="0.2">10000</text>
<text x="61.30" y="879.00" style="font-family:'Liberation Serif',serif;font-size:10px" text-anchor="middle" letter-spacing="-0.4" stroke="#000" stroke-width="0.2">1</text>
<text x="111.30" y="879.00" style="font-family:'Liberation Serif',serif;font-size:10px" text-anchor="middle" letter-spacing="-0.4" stroke="#000" stroke-width="0.2">10</text>
<text x="161.30" y="879.00" style="font-family:'Liberation Serif',serif;font-size:10px" text-anchor="middle" letter-spacing="-0.4" stroke="#000" stroke-width="0.2">100</text>
<text x="211.30" y="879.00" style="font-family:'Liberation Serif',serif;font-size:10px" text-anchor="middle" letter-spacing="-0.4" stroke="#000" stroke-width="0.2">1000</text>
<text x="261.30" y="879.00" style="font-family:'Liberation Serif',serif;font-size:10px" text-anchor="middle" letter-spacing="-0.4" stroke="#000" stroke-width="0.2">10000</text>
<line x1="109.50" y1="659.00" x2="109.50" y2="859.30" stroke="#000" stroke-width="1.4"/>
<line x1="61.00" y1="804.50" x2="259.60" y2="804.50" stroke="#000" stroke-width="1.4"/>
<text x="191.10" y="707.80" style="font-family:'Liberation Serif',serif;font-weight:bold;font-size:19.5px" text-anchor="start" >97<tspan dx="1.5" style="font-style:italic">%</tspan></text>
<line x1="307.10" y1="658.00" x2="307.10" y2="862.50" stroke="#000" stroke-width="2"/>
<line x1="306.00" y1="659.00" x2="508.80" y2="659.00" stroke="#000" stroke-width="2.8"/>
<line x1="505.20" y1="659.00" x2="506.50" y2="859.40" stroke="#000" stroke-width="1.1"/>
<line x1="507.80" y1="658.00" x2="509.10" y2="861.80" stroke="#000" stroke-width="1.2"/>
<line x1="307.00" y1="859.40" x2="506.50" y2="859.40" stroke="#000" stroke-width="1.1"/>
<line x1="306.00" y1="861.30" x2="509.10" y2="861.30" stroke="#000" stroke-width="1.4"/>
<line x1="307.00" y1="861.70" x2="301.00" y2="861.70" stroke="#000" stroke-width="1.5"/>
<line x1="307.00" y1="846.62" x2="304.40" y2="846.62" stroke="#000" stroke-width="1.5"/>
<line x1="307.00" y1="837.80" x2="304.40" y2="837.80" stroke="#000" stroke-width="1.5"/>
<line x1="307.00" y1="831.54" x2="304.40" y2="831.54" stroke="#000" stroke-width="1.5"/>
<line x1="307.00" y1="826.68" x2="302.70" y2="826.68" stroke="#000" stroke-width="1.5"/>
<line x1="307.00" y1="822.71" x2="304.40" y2="822.71" stroke="#000" stroke-width="1.5"/>
<line x1="307.00" y1="819.36" x2="304.40" y2="819.36" stroke="#000" stroke-width="1.5"/>
<line x1="307.00" y1="816.46" x2="304.40" y2="816.46" stroke="#000" stroke-width="1.5"/>
<line x1="307.00" y1="813.89" x2="304.40" y2="813.89" stroke="#000" stroke-width="1.5"/>
<line x1="307.00" y1="811.60" x2="301.00" y2="811.60" stroke="#000" stroke-width="1.5"/>
<line x1="307.00" y1="796.52" x2="304.40" y2="796.52" stroke="#000" stroke-width="1.5"/>
<line x1="307.00" y1="787.70" x2="304.40" y2="787.70" stroke="#000" stroke-width="1.5"/>
<line x1="307.00" y1="781.44" x2="304.40" y2="781.44" stroke="#000" stroke-width="1.5"/>
<line x1="307.00" y1="776.58" x2="302.70" y2="776.58" stroke="#000" stroke-width="1.5"/>
<line x1="307.00" y1="772.61" x2="304.40" y2="772.61" stroke="#000" stroke-width="1.5"/>
<line x1="307.00" y1="769.26" x2="304.40" y2="769.26" stroke="#000" stroke-width="1.5"/>
<line x1="307.00" y1="766.36" x2="304.40" y2="766.36" stroke="#000" stroke-width="1.5"/>
<line x1="307.00" y1="763.79" x2="304.40" y2="763.79" stroke="#000" stroke-width="1.5"/>
<line x1="307.00" y1="761.50" x2="301.00" y2="761.50" stroke="#000" stroke-width="1.5"/>
<line x1="307.00" y1="746.42" x2="304.40" y2="746.42" stroke="#000" stroke-width="1.5"/>
<line x1="307.00" y1="737.60" x2="304.40" y2="737.60" stroke="#000" stroke-width="1.5"/>
<line x1="307.00" y1="731.34" x2="304.40" y2="731.34" stroke="#000" stroke-width="1.5"/>
<line x1="307.00" y1="726.48" x2="302.70" y2="726.48" stroke="#000" stroke-width="1.5"/>
<line x1="307.00" y1="722.51" x2="304.40" y2="722.51" stroke="#000" stroke-width="1.5"/>
<line x1="307.00" y1="719.16" x2="304.40" y2="719.16" stroke="#000" stroke-width="1.5"/>
<line x1="307.00" y1="716.26" x2="304.40" y2="716.26" stroke="#000" stroke-width="1.5"/>
<line x1="307.00" y1="713.69" x2="304.40" y2="713.69" stroke="#000" stroke-width="1.5"/>
<line x1="307.00" y1="711.40" x2="301.00" y2="711.40" stroke="#000" stroke-width="1.5"/>
<line x1="307.00" y1="696.32" x2="304.40" y2="696.32" stroke="#000" stroke-width="1.5"/>
<line x1="307.00" y1="687.50" x2="304.40" y2="687.50" stroke="#000" stroke-width="1.5"/>
<line x1="307.00" y1="681.24" x2="304.40" y2="681.24" stroke="#000" stroke-width="1.5"/>
<line x1="307.00" y1="676.38" x2="302.70" y2="676.38" stroke="#000" stroke-width="1.5"/>
<line x1="307.00" y1="672.41" x2="304.40" y2="672.41" stroke="#000" stroke-width="1.5"/>
<line x1="307.00" y1="669.06" x2="304.40" y2="669.06" stroke="#000" stroke-width="1.5"/>
<line x1="307.00" y1="666.16" x2="304.40" y2="666.16" stroke="#000" stroke-width="1.5"/>
<line x1="307.00" y1="663.59" x2="304.40" y2="663.59" stroke="#000" stroke-width="1.5"/>
<line x1="307.00" y1="661.30" x2="301.00" y2="661.30" stroke="#000" stroke-width="1.5"/>
<line x1="307.00" y1="861.30" x2="307.00" y2="867.30" stroke="#000" stroke-width="1.5"/>
<line x1="322.02" y1="861.30" x2="322.02" y2="863.90" stroke="#000" stroke-width="1.5"/>
<line x1="330.81" y1="861.30" x2="330.81" y2="863.90" stroke="#000" stroke-width="1.5"/>
<line x1="337.04" y1="861.30" x2="337.04" y2="863.90" stroke="#000" stroke-width="1.5"/>
<line x1="341.88" y1="861.30" x2="341.88" y2="865.60" stroke="#000" stroke-width="1.5"/>
<line x1="345.83" y1="861.30" x2="345.83" y2="863.90" stroke="#000" stroke-width="1.5"/>
<line x1="349.17" y1="861.30" x2="349.17" y2="863.90" stroke="#000" stroke-width="1.5"/>
<line x1="352.06" y1="861.30" x2="352.06" y2="863.90" stroke="#000" stroke-width="1.5"/>
<line x1="354.62" y1="861.30" x2="354.62" y2="863.90" stroke="#000" stroke-width="1.5"/>
<line x1="356.90" y1="861.30" x2="356.90" y2="867.30" stroke="#000" stroke-width="1.5"/>
<line x1="371.92" y1="861.30" x2="371.92" y2="863.90" stroke="#000" stroke-width="1.5"/>
<line x1="380.71" y1="861.30" x2="380.71" y2="863.90" stroke="#000" stroke-width="1.5"/>
<line x1="386.94" y1="861.30" x2="386.94" y2="863.90" stroke="#000" stroke-width="1.5"/>
<line x1="391.78" y1="861.30" x2="391.78" y2="865.60" stroke="#000" stroke-width="1.5"/>
<line x1="395.73" y1="861.30" x2="395.73" y2="863.90" stroke="#000" stroke-width="1.5"/>
<line x1="399.07" y1="861.30" x2="399.07" y2="863.90" stroke="#000" stroke-width="1.5"/>
<line x1="401.96" y1="861.30" x2="401.96" y2="863.90" stroke="#000" stroke-width="1.5"/>
<line x1="404.52" y1="861.30" x2="404.52" y2="863.90" stroke="#000" stroke-width="1.5"/>
<line x1="406.80" y1="861.30" x2="406.80" y2="867.30" stroke="#000" stroke-width="1.5"/>
<line x1="421.82" y1="861.30" x2="421.82" y2="863.90" stroke="#000" stroke-width="1.5"/>
<line x1="430.61" y1="861.30" x2="430.61" y2="863.90" stroke="#000" stroke-width="1.5"/>
<line x1="436.84" y1="861.30" x2="436.84" y2="863.90" stroke="#000" stroke-width="1.5"/>
<line x1="441.68" y1="861.30" x2="441.68" y2="865.60" stroke="#000" stroke-width="1.5"/>
<line x1="445.63" y1="861.30" x2="445.63" y2="863.90" stroke="#000" stroke-width="1.5"/>
<line x1="448.97" y1="861.30" x2="448.97" y2="863.90" stroke="#000" stroke-width="1.5"/>
<line x1="451.86" y1="861.30" x2="451.86" y2="863.90" stroke="#000" stroke-width="1.5"/>
<line x1="454.42" y1="861.30" x2="454.42" y2="863.90" stroke="#000" stroke-width="1.5"/>
<line x1="456.70" y1="861.30" x2="456.70" y2="867.30" stroke="#000" stroke-width="1.5"/>
<line x1="471.72" y1="861.30" x2="471.72" y2="863.90" stroke="#000" stroke-width="1.5"/>
<line x1="480.51" y1="861.30" x2="480.51" y2="863.90" stroke="#000" stroke-width="1.5"/>
<line x1="486.74" y1="861.30" x2="486.74" y2="863.90" stroke="#000" stroke-width="1.5"/>
<line x1="491.58" y1="861.30" x2="491.58" y2="865.60" stroke="#000" stroke-width="1.5"/>
<line x1="495.53" y1="861.30" x2="495.53" y2="863.90" stroke="#000" stroke-width="1.5"/>
<line x1="498.87" y1="861.30" x2="498.87" y2="863.90" stroke="#000" stroke-width="1.5"/>
<line x1="501.76" y1="861.30" x2="501.76" y2="863.90" stroke="#000" stroke-width="1.5"/>
<line x1="504.32" y1="861.30" x2="504.32" y2="863.90" stroke="#000" stroke-width="1.5"/>
<line x1="506.60" y1="861.30" x2="506.60" y2="867.30" stroke="#000" stroke-width="1.5"/>
<text x="297.70" y="867.10" style="font-family:'Liberation Serif',serif;font-size:10px" text-anchor="end" letter-spacing="-0.4" stroke="#000" stroke-width="0.2">1</text>
<text x="297.70" y="817.00" style="font-family:'Liberation Serif',serif;font-size:10px" text-anchor="end" letter-spacing="-0.4" stroke="#000" stroke-width="0.2">10</text>
<text x="297.70" y="766.90" style="font-family:'Liberation Serif',serif;font-size:10px" text-anchor="end" letter-spacing="-0.4" stroke="#000" stroke-width="0.2">100</text>
<text x="297.70" y="716.80" style="font-family:'Liberation Serif',serif;font-size:10px" text-anchor="end" letter-spacing="-0.4" stroke="#000" stroke-width="0.2">1000</text>
<text x="297.70" y="666.70" style="font-family:'Liberation Serif',serif;font-size:10px" text-anchor="end" letter-spacing="-0.4" stroke="#000" stroke-width="0.2">10000</text>
<text x="307.00" y="879.00" style="font-family:'Liberation Serif',serif;font-size:10px" text-anchor="middle" letter-spacing="-0.4" stroke="#000" stroke-width="0.2">1</text>
<text x="356.90" y="879.00" style="font-family:'Liberation Serif',serif;font-size:10px" text-anchor="middle" letter-spacing="-0.4" stroke="#000" stroke-width="0.2">10</text>
<text x="406.80" y="879.00" style="font-family:'Liberation Serif',serif;font-size:10px" text-anchor="middle" letter-spacing="-0.4" stroke="#000" stroke-width="0.2">100</text>
<text x="456.70" y="879.00" style="font-family:'Liberation Serif',serif;font-size:10px" text-anchor="middle" letter-spacing="-0.4" stroke="#000" stroke-width="0.2">1000</text>
<text x="506.60" y="879.00" style="font-family:'Liberation Serif',serif;font-size:10px" text-anchor="middle" letter-spacing="-0.4" stroke="#000" stroke-width="0.2">10000</text>
<line x1="356.00" y1="659.40" x2="356.00" y2="859.40" stroke="#000" stroke-width="1.4"/>
<line x1="307.00" y1="805.00" x2="505.80" y2="805.00" stroke="#000" stroke-width="1.4"/>
<text x="434.50" y="707.30" style="font-family:'Liberation Serif',serif;font-weight:bold;font-size:19.5px" text-anchor="start" >92<tspan dx="1.5" style="font-style:italic">%</tspan></text>
<g clip-path="url(#c1l)" fill="none" stroke="#000" stroke-width="1.25" stroke-linejoin="round">
<path d="M50.00,213.50 C52.57,204.30 61.17,213.52 65.40,212.80 C69.63,212.08 71.68,210.57 75.40,209.20 C79.12,207.83 83.60,206.00 87.70,204.60 C91.80,203.20 96.15,201.77 100.00,200.80 C103.85,199.83 107.22,199.18 110.80,198.80 C114.38,198.42 118.68,198.30 121.50,198.50 C124.32,198.70 126.15,199.12 127.70,200.00 C129.25,200.88 129.87,202.60 130.80,203.80 C131.73,205.00 131.13,207.45 133.30,207.20 C135.47,206.95 140.32,203.98 143.80,202.30 C147.28,200.62 150.73,198.83 154.20,197.10 C157.67,195.37 160.85,193.05 164.60,191.90 C168.35,190.75 172.67,190.33 176.70,190.20 C180.73,190.07 184.77,190.67 188.80,191.10 C192.83,191.53 197.43,191.80 200.90,192.80 C204.37,193.80 207.28,194.93 209.60,197.10 C211.92,199.27 213.80,202.63 214.80,205.80 C215.80,208.97 215.90,212.35 215.60,216.10 C215.30,219.85 214.15,224.83 213.00,228.30 C211.85,231.77 210.13,234.32 208.70,236.90 C207.27,239.48 205.70,241.20 204.40,243.80 C203.10,246.40 201.77,250.13 200.90,252.50 C200.03,254.87 199.68,255.42 199.20,258.00 C198.72,260.58 208.87,266.33 198.00,268.00 C187.13,269.67 144.70,270.00 134.00,268.00 C123.30,266.00 134.05,259.67 133.80,256.00 C133.55,252.33 133.17,248.42 132.50,246.00 C131.83,243.58 130.85,242.60 129.80,241.50 C128.75,240.40 127.47,239.23 126.20,239.40 C124.93,239.57 123.18,240.73 122.20,242.50 C121.22,244.27 120.75,245.75 120.30,250.00 C119.85,254.25 131.22,265.00 119.50,268.00 C107.78,271.00 61.58,277.08 50.00,268.00 C38.42,258.92 47.43,222.70 50.00,213.50Z"/>
<path d="M101.5,269.8 102.0,269.3 107.0,269.0 120.8,267.2 124.2,265.9 125.4,264.5 125.4,263.8 124.3,261.8 119.8,257.0 118.7,254.8 120.6,244.8 126.4,227.0 127.5,217.5 127.3,213.2 126.4,209.2 124.9,206.8 122.0,204.6 117.8,203.7 111.2,203.6 107.0,204.0 98.8,205.8 87.0,209.6 69.2,217.9 63.5,219.2 46.8,219.2 33.2,216.8 28.2,216.6 26.0,216.9 23.5,217.8 20.5,220.2 17.5,226.5 15.4,231.8 15.0,232.0"/>
<path d="M15.0,263.2 17.8,265.8 20.2,267.3 25.2,269.0 25.8,269.8"/>
<path d="M95.6,269.8 97.0,266.7 99.5,264.5 101.0,264.2 103.2,264.6 105.5,264.1 107.5,263.2 116.2,261.8 115.2,260.5 114.1,258.2 114.0,254.0 115.9,248.0 117.9,243.2 118.5,239.8 121.8,231.0 123.5,221.8 123.6,216.8 123.2,214.2 122.2,209.8 121.0,208.3 112.2,206.9 98.8,208.5 89.2,211.8 72.0,220.9 67.2,222.2 51.8,223.8 48.2,223.5 41.2,223.7 35.5,222.0 27.2,222.4 25.5,223.7 23.5,227.8 20.8,231.2 18.5,235.9 15.0,239.0"/>
<path d="M15.0,253.5 16.4,254.2 18.2,256.6 20.5,258.2 21.8,260.0 27.0,261.8 29.8,262.2 31.3,263.0 33.5,266.2 34.0,269.8"/>
<path d="M90.2,269.8 91.1,265.5 94.5,261.6 103.0,258.9 108.9,258.0 109.9,255.0 111.1,249.0 114.6,242.8 115.4,238.8 117.9,232.8 118.6,227.0 119.9,221.5 119.2,214.8 118.2,212.2 116.2,211.5 110.0,210.3 99.2,210.8 91.0,214.3 82.5,219.6 71.2,224.5 63.2,225.8 59.0,227.0 48.8,227.6 43.8,228.6 40.8,228.6 36.5,227.9 29.2,228.4 27.4,230.2 25.1,233.5 19.3,245.0 17.5,247.8 22.8,251.7 27.2,254.0 34.2,256.9 38.7,260.0 41.2,263.2 44.8,265.4 46.7,269.8"/>
<path d="M77.3,269.8 78.8,267.4 82.2,265.5 86.8,261.2 91.2,258.4 94.5,255.4 98.2,254.2 103.9,254.0 111.4,241.0 114.9,232.2 116.6,222.5 115.5,215.3 113.0,214.1 109.0,213.1 99.8,213.2 92.5,216.4 87.4,219.5 85.0,221.5 74.0,226.5 67.2,228.2 49.2,231.8 44.5,232.0 37.8,231.7 31.8,232.3 29.5,234.2 28.1,236.0 27.4,238.0 27.0,243.5 27.6,247.8 30.2,249.4 33.0,250.4 37.8,250.9 46.8,253.8 48.3,255.0 50.5,258.0 56.1,260.8 57.2,261.8 57.5,263.2 55.8,267.2 55.7,269.8"/>
<path d="M63.5,264.5 64.5,264.1 67.0,261.4 68.2,260.6 69.5,260.8 71.8,262.4 78.5,261.5 89.5,255.8 94.5,251.8 100.3,250.5 108.5,240.2 112.4,231.5 113.1,229.0 113.7,222.8 113.2,217.7 111.0,216.5 109.0,216.0 103.0,215.1 100.2,215.3 96.8,216.5 93.2,218.4 90.0,220.8 88.0,222.9 83.9,225.0 76.5,227.9 68.2,230.4 63.0,231.2 57.2,232.9 50.5,234.4 39.0,234.9 33.8,235.9 32.8,237.8 36.1,243.5 38.8,245.9 40.9,246.2 41.4,241.8 42.5,240.1 43.5,239.4 44.0,239.8 46.5,246.2 48.2,246.7 50.2,246.1 51.3,245.0 51.7,243.8 51.3,241.5 49.8,239.8 49.9,239.0 50.5,238.7 51.3,239.0 52.5,240.5 56.8,241.5 61.2,240.8 61.7,241.5 61.8,244.2 62.3,245.2 63.2,245.6 65.8,245.2 66.8,245.5 67.2,246.5 67.2,247.5 65.3,251.0 64.8,254.2 62.0,257.8 62.3,260.2 63.5,264.5"/>
<path d="M82.0,256.0 86.1,254.5 94.5,247.7 97.2,247.2 102.0,243.8 106.0,239.5 107.8,237.0 110.8,230.0 111.5,224.0 111.0,219.8 108.8,218.4 104.5,217.0 102.8,216.7 100.8,216.9 97.2,218.3 93.2,220.7 91.6,222.2 90.2,224.2 83.0,227.3 72.8,230.5 69.2,232.0 69.1,232.2 71.8,233.2 74.2,234.9 77.5,236.2 80.6,239.8 77.8,245.9 74.4,251.0 79.8,255.4 82.0,256.0"/>
<path d="M65.0,232.8 64.5,232.8 65.0,232.8"/>
<path d="M84.1,253.0 90.2,247.8 93.7,244.2 94.8,242.4 100.8,241.4 102.5,240.2 104.0,238.5 107.9,232.5 109.3,228.8 109.7,224.5 109.5,222.0 107.3,220.0 103.5,218.2 100.2,218.6 97.8,219.8 94.2,222.2 92.0,225.3 76.7,231.0 79.0,231.8 82.2,233.7 86.2,233.7 87.8,234.1 86.5,236.8 83.9,240.0 83.0,244.2 81.8,246.0 80.4,249.2 80.4,251.0 81.0,252.3 82.5,253.1 84.1,253.0"/>
<path d="M85.3,249.8 87.7,247.0 92.1,243.0 95.0,238.3 98.2,239.1 100.8,238.8 102.0,237.8 106.1,232.8 107.8,229.0 108.2,224.2 107.9,223.0 105.0,220.3 102.5,219.5 99.8,220.1 95.4,223.2 93.5,226.2 82.9,230.0 84.5,230.6 88.5,231.0 90.9,231.8 86.1,241.5 85.7,243.5 85.8,246.0 84.6,249.2 84.8,249.9 85.3,249.8"/>
<path d="M100.2,235.2 104.2,231.9 105.6,229.8 106.3,227.8 106.1,224.5 104.2,222.2 102.5,221.2 100.5,221.5 98.8,222.4 96.4,224.8 95.4,227.0 92.2,228.5 95.4,229.5 96.5,234.5 98.5,235.4 100.2,235.2"/>
<path d="M88.9,242.8 90.6,241.2 95.1,233.0 95.2,232.0 94.5,231.2 93.2,231.5 91.8,234.2 88.8,241.2 88.4,242.5 88.5,242.8 88.9,242.8"/>
<path d="M100.6,230.8 102.7,229.5 103.7,227.2 102.9,225.2 101.2,224.2 99.2,225.0 98.2,227.2 98.8,229.8 99.8,230.7 100.6,230.8"/>
<path d="M94.1,263.2 98.8,263.1 106.0,262.1 107.5,261.3 108.6,260.2 109.1,258.2 108.6,256.0 107.1,252.8 106.5,250.5 105.5,249.2 103.0,248.0 98.2,247.2 87.0,247.0 76.0,248.0 74.2,248.7 73.0,250.0 69.9,256.0 69.7,259.8 70.5,261.1 72.0,262.1 75.8,262.8 82.0,263.4 94.1,263.2"/>
<path d="M91.7,261.5 100.2,260.4 105.5,258.7 105.7,258.0 105.3,256.2 103.4,252.0 99.5,250.7 91.0,249.8 81.0,250.5 76.0,251.6 74.1,254.2 72.9,257.0 72.8,258.8 76.8,260.2 83.0,261.3 91.7,261.5"/>
<path d="M92.0,259.8 96.9,258.5 99.8,257.0 101.0,256.0 100.5,254.6 96.2,253.2 88.5,252.4 83.8,252.9 79.5,254.0 78.2,254.5 77.1,256.2 79.5,257.9 83.2,259.3 87.5,259.9 92.0,259.8"/>
<path d="M66.0,263.8 70.0,262.0 71.0,260.5 71.5,258.8 71.8,256.0 71.6,246.5 71.1,242.5 69.6,239.0 67.5,236.7 59.8,234.0 56.8,234.3 55.1,236.0 54.0,240.5 53.5,245.8 53.5,254.5 54.0,258.8 55.0,262.0 57.2,263.8"/>
<path d="M63.0,263.8 64.2,261.8 68.0,260.1 68.8,259.0 69.6,254.0 69.7,247.2 68.9,243.2 66.7,239.5 64.2,238.3 58.8,237.3 58.2,237.5 57.7,238.8 56.4,243.8 56.0,247.5 56.0,253.5 57.4,259.8 59.7,262.0 60.5,263.8"/>
<path d="M61.8,259.8 65.8,258.5 66.8,257.5 68.0,253.0 68.2,248.8 67.4,245.0 65.5,241.8 64.2,240.9 60.5,240.6 59.6,242.0 58.3,247.0 58.1,251.8 58.8,255.5 59.7,258.0 61.8,259.8"/>
<path d="M64.0,256.5 65.2,255.3 66.4,253.2 66.9,251.0 66.9,248.8 65.2,245.0 63.8,243.7 62.2,243.4 61.3,244.5 60.2,247.2 60.0,251.8 60.9,254.8 62.0,256.5 64.0,256.5"/>
<path d="M64.1,253.0 65.4,251.5 65.6,249.2 64.8,247.5 63.0,246.9 62.5,247.1 61.9,248.2 61.7,251.0 62.5,253.0 64.1,253.0"/>
<path d="M168.9,269.2 182.2,268.5 187.8,267.6 190.3,266.8 191.5,265.5 191.8,264.5 191.5,263.5 188.6,257.2 188.6,255.0 189.4,252.5 192.2,246.8 194.5,243.3 200.4,235.8 203.9,230.5 206.6,224.5 208.4,218.0 208.1,212.8 206.0,207.9 203.0,204.3 198.0,201.1 195.0,200.3 184.0,199.0 175.8,199.0 167.8,200.1 157.8,202.6 152.2,205.2 146.2,209.0 141.6,214.0 137.8,221.0 136.1,226.0 134.6,234.5 134.6,244.0 135.5,250.8 135.7,255.5 132.0,263.8 131.9,265.2 132.4,266.0 134.8,267.5 138.2,268.3 146.5,268.9 151.5,268.4 155.5,269.3 168.9,269.2"/>
<path d="M177.7,264.2 185.9,263.0 184.0,257.8 184.3,254.2 185.6,251.0 190.3,243.0 197.5,233.8 200.8,228.3 204.2,220.8 204.5,218.5 204.1,215.0 202.3,210.2 200.8,208.0 198.0,205.4 194.2,203.3 183.2,201.9 176.5,201.7 165.0,203.8 159.0,205.5 148.0,211.4 146.5,212.6 141.7,220.0 139.3,225.2 138.4,230.0 138.2,237.2 138.9,244.8 141.4,250.0 141.2,254.0 142.1,258.5 141.8,260.8 152.5,263.8 153.8,263.7 156.0,262.7 157.8,262.6 161.8,262.8 169.8,264.4 173.2,264.1 177.7,264.2"/>
<path d="M177.8,259.5 179.5,259.2 179.9,257.0 179.7,254.0 180.8,251.5 186.4,243.5 193.0,235.1 195.9,229.2 198.9,225.5 201.0,218.2 201.1,215.5 198.8,210.0 196.2,207.8 192.8,206.8 189.5,205.3 180.8,204.2 177.0,204.2 168.0,205.9 163.5,207.8 160.8,207.8 158.7,208.5 149.2,213.2 148.0,214.2 144.2,219.8 141.6,226.0 141.1,230.5 141.6,240.2 142.4,242.5 146.8,249.8 147.2,257.2 150.5,258.0 153.8,256.6 155.8,256.4 159.5,257.6 165.0,258.1 170.2,259.5 177.8,259.5"/>
<path d="M175.3,255.5 179.6,248.0 183.8,243.8 191.1,234.8 193.8,229.0 197.5,223.8 198.4,216.2 196.9,212.0 195.0,210.0 189.2,207.4 184.2,207.0 180.8,206.0 177.2,205.8 169.5,207.8 164.5,210.1 161.0,209.8 159.2,210.2 153.9,212.5 149.0,215.3 145.8,219.5 143.5,224.8 143.1,228.0 144.1,239.8 147.1,245.2 150.4,249.8 151.5,253.0 154.2,253.7 158.8,253.8 167.8,255.3 175.3,255.5"/>
<path d="M174.0,254.0 178.5,247.5 183.3,243.2 190.1,234.8 193.0,229.0 196.5,223.8 197.2,216.0 196.0,212.8 194.5,210.9 189.2,208.2 184.2,207.7 180.5,206.7 177.2,206.5 174.8,206.9 169.8,208.6 165.0,210.8 159.5,210.9 154.2,213.0 149.2,215.8 146.2,219.8 144.1,224.8 143.8,228.0 145.2,239.2 147.9,244.8 151.0,248.6 152.8,251.9 155.0,252.6 159.8,252.5 167.5,254.0 174.0,254.0"/>
<path d="M172.6,252.5 175.0,250.3 178.0,246.5 182.8,242.6 189.4,234.2 195.5,223.2 196.2,216.0 195.3,213.5 194.0,211.8 189.0,208.9 184.0,208.4 180.2,207.3 177.2,207.1 171.2,209.0 165.2,211.7 160.5,211.6 158.5,212.0 153.2,214.2 149.5,216.4 146.6,220.0 145.1,223.8 144.4,227.0 146.1,238.2 148.5,243.8 151.3,246.8 153.7,251.0 155.5,251.4 161.0,251.1 167.2,252.6 172.6,252.5"/>
<path d="M171.4,251.0 173.8,249.7 176.8,246.1 182.5,241.3 189.1,233.2 193.1,226.0 194.9,221.0 195.2,215.8 193.8,212.8 189.0,209.8 183.8,209.1 179.0,207.9 175.2,208.3 167.8,211.3 165.5,212.7 159.8,212.6 155.0,214.1 150.0,216.8 147.9,219.0 146.7,221.0 145.2,225.2 145.0,227.0 146.9,237.0 149.5,242.7 152.2,245.4 154.5,249.9 155.8,250.2 162.0,249.7 166.8,251.2 171.4,251.0"/>
<path d="M170.3,249.8 173.0,248.4 175.5,245.5 182.2,239.7 188.2,233.0 191.7,227.5 194.2,220.0 194.5,216.0 193.2,213.6 188.8,210.6 179.2,208.6 176.2,208.8 169.0,211.6 165.2,213.9 159.2,213.5 155.3,214.8 150.4,217.2 147.4,220.8 145.9,225.0 145.7,227.0 147.9,236.8 151.0,241.2 153.5,243.5 155.2,248.4 156.0,248.9 162.8,248.2 167.0,249.7 170.3,249.8"/>
<path d="M168.8,247.8 172.5,246.3 181.2,239.0 187.5,232.8 190.6,228.2 193.4,219.5 193.7,216.0 193.0,214.7 188.6,211.5 179.2,209.4 176.6,209.5 169.5,212.3 165.0,215.1 162.8,215.0 159.2,214.3 155.8,215.3 150.9,217.8 148.0,220.8 146.7,224.5 146.4,227.0 148.9,236.2 149.8,237.8 154.5,242.0 156.5,246.8 157.2,247.4 164.0,246.2 166.5,246.8 168.5,247.9 168.8,247.8"/>
<path d="M181.0,223.5 180.0,223.8 178.5,223.4 177.9,223.0 177.8,222.0 179.0,221.1 181.0,221.3 181.8,222.5 181.0,223.5"/>
<path d="M158.0,228.0 156.5,228.3 155.5,227.9 154.3,225.5 154.5,223.3 156.5,221.7 157.5,221.7 158.5,222.3 159.6,224.5 159.4,226.5 158.0,228.0"/>
<path d="M158.0,230.1 156.0,230.0 154.5,229.3 153.0,227.5 152.6,225.5 152.6,223.5 153.5,221.6 155.5,220.1 157.0,219.6 158.5,219.9 160.0,221.0 161.3,224.5 161.3,226.0 160.5,228.0 159.5,229.3 158.0,230.1"/>
<path d="M181.5,224.7 179.5,224.9 177.0,224.4 175.9,223.0 176.2,221.5 177.0,220.5 178.5,219.9 180.5,219.8 182.0,220.3 183.2,221.5 183.5,222.5 183.0,223.6 181.5,224.7"/>
<path d="M159.0,232.0 157.0,232.1 153.5,230.8 152.0,229.0 151.0,227.0 151.0,223.5 151.8,221.0 153.0,219.4 155.5,217.9 158.0,217.9 160.0,218.8 161.6,220.0 162.6,222.0 163.0,225.0 162.7,227.0 161.0,230.2 159.0,232.0"/>
<path d="M181.0,226.0 177.5,226.1 175.4,225.0 174.6,224.0 174.2,222.5 174.6,221.0 175.3,220.0 177.0,218.9 179.5,218.4 182.0,218.9 184.0,220.0 185.1,222.0 184.8,223.5 183.5,225.1 181.0,226.0"/>
<path d="M158.0,234.0 155.0,233.7 152.2,232.0 149.8,228.0 149.2,226.0 149.7,222.5 151.5,218.7 154.0,216.5 156.0,215.9 159.0,216.1 163.0,219.0 164.2,221.0 164.9,225.0 164.2,228.0 161.7,232.0 160.0,233.5 158.0,234.0"/>
<path d="M182.5,227.1 177.0,227.4 174.3,226.0 173.2,225.0 172.5,223.5 172.4,221.5 173.0,220.0 174.0,219.0 176.0,217.9 179.0,217.2 182.0,217.4 184.5,218.5 186.6,221.0 186.7,223.0 185.0,225.6 182.5,227.1"/>
<path d="M158.5,236.0 154.5,235.4 152.0,233.9 150.1,232.0 148.3,228.0 147.7,224.5 148.2,222.0 150.5,217.0 152.3,215.5 156.0,214.2 159.5,214.2 163.5,216.9 167.5,220.4 175.5,216.7 179.0,215.9 181.0,216.0 183.0,216.3 185.0,217.3 187.8,220.0 188.4,222.0 188.0,224.0 186.8,226.0 185.0,227.5 181.5,228.8 176.5,228.8 172.1,227.0 169.5,225.3 168.5,225.3 165.0,231.9 161.5,234.9 158.5,236.0"/>
<path d="M160.0,238.0 158.0,238.2 153.0,236.7 148.8,233.0 146.9,229.0 146.0,224.5 146.8,221.0 148.9,216.5 151.5,213.6 156.5,212.1 159.0,212.2 163.5,214.3 166.5,216.2 169.5,216.9 173.5,215.6 178.0,214.8 182.5,214.9 186.5,216.6 189.1,219.0 190.3,221.5 189.9,224.0 188.5,226.5 186.0,228.7 181.0,230.4 176.0,230.6 173.0,230.0 170.0,230.7 168.7,231.5 167.0,234.0 164.1,236.0 160.0,238.0"/>
<path d="M172.5,236.2 172.0,236.4 170.9,236.0 171.2,235.5 172.0,235.4 172.5,235.7 172.5,236.2"/>
<path d="M161.5,239.6 158.0,239.9 154.0,239.3 152.5,238.7 147.8,234.5 145.0,229.0 144.5,224.0 145.3,220.0 147.1,216.0 150.2,212.5 154.5,210.6 158.5,210.2 161.0,210.9 169.5,214.8 176.0,213.4 183.0,213.7 187.0,215.2 190.5,218.0 192.1,221.0 192.0,223.5 190.5,226.9 187.5,229.5 184.5,231.1 178.6,232.5 176.7,233.5 176.1,234.0 175.2,236.5 173.5,237.6 171.0,238.2 167.0,238.1 161.5,239.6"/>
<path d="M162.0,241.5 158.0,241.8 153.5,241.3 151.5,240.4 147.0,236.5 143.9,230.5 143.2,228.5 142.9,224.0 143.7,220.0 145.5,215.4 149.4,211.0 154.0,208.9 159.0,208.6 162.0,209.3 170.5,212.8 176.0,211.9 182.5,212.4 185.5,213.0 189.5,215.1 191.6,217.0 193.7,220.5 194.0,222.0 193.1,225.5 192.1,227.5 191.0,228.7 187.0,231.6 180.5,234.5 178.2,237.0 175.0,238.9 162.0,241.5"/>
<path d="M161.5,243.6 158.0,243.7 153.5,243.2 150.0,241.7 145.5,237.5 142.5,231.5 141.8,229.0 141.5,224.5 142.4,219.0 144.5,214.1 148.5,209.3 151.5,207.9 154.5,207.0 160.0,206.7 171.0,210.9 176.5,210.7 182.5,211.0 186.0,211.8 190.5,214.1 193.6,217.0 195.2,220.0 195.6,222.5 194.8,226.5 192.0,229.9 187.5,233.4 184.1,235.0 180.2,238.5 176.0,240.6 170.5,241.4 166.5,242.7 161.5,243.6"/>
</g>
<g clip-path="url(#c1r)" fill="none" stroke="#000" stroke-width="1.25" stroke-linejoin="round">
<path d="M290.00,209.50 C292.57,199.70 301.17,209.88 305.40,209.20 C309.63,208.52 311.17,206.93 315.40,205.40 C319.63,203.87 325.67,201.80 330.80,200.00 C335.93,198.20 341.58,196.08 346.20,194.60 C350.82,193.12 355.43,191.78 358.50,191.10 C361.57,190.42 362.68,190.05 364.60,190.50 C366.52,190.95 368.85,191.97 370.00,193.80 C371.15,195.63 371.12,198.67 371.50,201.50 C371.88,204.33 371.88,207.80 372.30,210.80 C372.72,213.80 373.05,217.80 374.00,219.50 C374.95,221.20 376.55,221.17 378.00,221.00 C379.45,220.83 380.95,220.20 382.70,218.50 C384.45,216.80 386.25,213.68 388.50,210.80 C390.75,207.92 393.32,203.62 396.20,201.20 C399.08,198.78 402.92,197.58 405.80,196.30 C408.68,195.02 410.93,194.23 413.50,193.50 C416.07,192.77 418.97,191.75 421.20,191.90 C423.43,192.05 424.35,194.40 426.90,194.40 C429.45,194.40 433.28,192.22 436.50,191.90 C439.72,191.58 442.98,191.77 446.20,192.50 C449.42,193.23 452.92,194.85 455.80,196.30 C458.68,197.75 461.75,199.43 463.50,201.20 C465.25,202.97 466.15,204.98 466.30,206.90 C466.45,208.82 465.52,210.13 464.40,212.70 C463.28,215.27 461.03,219.10 459.60,222.30 C458.17,225.50 456.92,228.70 455.80,231.90 C454.68,235.10 453.55,237.97 452.90,241.50 C452.25,245.03 452.13,248.68 451.90,253.10 C451.67,257.52 462.15,265.52 451.50,268.00 C440.85,270.48 398.67,270.17 388.00,268.00 C377.33,265.83 387.75,258.45 387.50,255.00 C387.25,251.55 386.98,250.50 386.50,247.30 C386.02,244.10 385.55,238.85 384.60,235.80 C383.65,232.75 382.23,230.38 380.80,229.00 C379.37,227.62 377.38,227.00 376.00,227.50 C374.62,228.00 373.33,229.58 372.50,232.00 C371.67,234.42 371.50,238.67 371.00,242.00 C370.50,245.33 369.83,247.67 369.50,252.00 C369.17,256.33 382.25,265.33 369.00,268.00 C355.75,270.67 303.17,277.75 290.00,268.00 C276.83,258.25 287.43,219.30 290.00,209.50Z"/>
<path d="M346.8,269.8 347.2,269.3 351.5,268.5 358.5,267.9 364.0,266.6 366.2,265.5 367.5,263.8 367.5,262.8 366.5,260.4 361.1,253.2 360.5,251.8 361.0,246.0 362.9,238.8 365.2,227.0 365.9,219.5 365.9,208.5 365.4,204.0 364.6,200.8 363.6,198.8 361.8,197.2 358.0,197.3 348.8,199.2 318.8,208.7 309.0,212.7 304.2,213.8 295.5,214.1 285.8,213.6 283.2,213.2 276.8,211.3 270.5,210.5 264.0,211.4 262.0,212.5 260.4,214.2 258.1,219.2 257.0,223.8 255.5,227.0 255.0,227.3"/>
<path d="M255.0,262.7 256.8,265.0 260.2,267.8 264.8,269.3 265.0,269.8"/>
<path d="M342.7,269.8 344.0,266.1 346.8,264.4 351.0,263.2 355.8,263.5 358.5,262.8 362.6,262.5 360.4,259.8 359.2,257.8 356.5,255.3 355.6,252.5 356.0,249.5 357.5,246.0 361.6,233.2 363.1,221.8 362.8,206.5 360.2,201.2 356.0,201.2 351.5,202.0 342.0,204.6 338.0,206.3 328.7,209.0 324.5,210.9 319.8,212.2 314.0,214.3 310.0,216.9 302.8,219.2 289.8,218.2 286.2,219.2 283.0,218.3 278.5,217.8 276.0,217.9 271.2,219.2 267.5,218.7 265.8,220.5 264.3,224.5 261.8,227.8 260.0,231.5 257.5,233.6 255.0,234.4"/>
<path d="M255.0,257.4 256.7,258.0 264.0,263.1 267.8,265.2 269.8,267.5 270.6,269.8"/>
<path d="M337.5,269.8 339.3,265.2 340.5,263.8 345.0,260.7 352.1,258.2 351.9,255.8 353.2,248.5 354.8,245.5 357.8,236.5 359.5,232.8 360.7,226.0 360.8,214.2 359.4,207.0 357.8,204.7 351.2,204.7 345.7,206.8 339.8,208.1 330.5,210.8 317.8,216.5 314.2,220.0 309.5,221.3 306.2,221.3 297.0,222.8 292.2,222.0 286.8,223.7 279.8,222.1 270.2,223.1 266.7,228.0 265.3,231.8 262.2,234.8 260.0,238.1 258.0,239.7 255.0,240.2"/>
<path d="M255.0,251.0 257.0,251.6 259.8,253.5 263.5,255.4 266.2,258.5 272.5,263.1 274.4,265.5 275.6,269.8"/>
<path d="M331.7,269.8 332.5,268.2 334.9,266.0 337.2,262.7 342.8,258.6 348.7,256.2 350.6,247.5 357.8,232.2 358.7,228.8 359.1,225.8 358.5,219.5 358.8,215.8 357.4,210.0 356.2,207.1 350.8,207.4 339.5,210.1 324.8,215.5 319.8,217.9 315.8,222.1 308.2,225.6 306.8,225.7 304.0,224.8 301.2,224.4 296.2,225.8 293.0,225.5 289.5,226.2 283.2,226.5 279.8,226.2 275.8,227.8 273.0,227.8 270.5,231.0 269.2,233.8 266.6,236.8 262.0,243.6 259.5,244.7 255.0,244.0"/>
<path d="M255.0,246.6 259.0,246.1 260.0,246.5 262.2,248.8 267.2,255.5 274.8,260.0 278.5,265.5 279.8,269.8"/>
<path d="M329.1,269.8 331.0,264.5 332.7,262.2 334.2,261.0 337.2,259.4 340.5,256.0 345.2,253.8 346.5,250.0 349.7,244.8 350.6,242.2 353.7,236.2 356.4,232.0 357.3,228.5 357.6,223.5 356.7,215.8 355.2,210.4 354.5,209.2 351.2,209.2 344.8,210.4 333.8,214.5 327.0,216.5 320.8,219.6 317.0,223.5 313.2,226.3 309.0,227.7 306.5,227.9 301.0,227.2 296.5,228.7 291.2,229.5 286.8,229.4 282.2,231.8 277.5,231.1 274.8,231.3 273.6,232.8 272.0,236.1 269.5,237.4 268.6,238.2 268.1,239.8 268.0,243.0 266.4,245.0 267.7,248.5 268.7,250.0 277.0,255.8 282.8,264.0 284.9,267.8 285.6,269.8"/>
<path d="M323.0,269.8 324.5,267.9 327.5,266.2 329.4,262.8 331.1,260.8 335.7,257.8 338.8,254.6 342.5,251.8 344.1,249.0 348.1,244.8 349.7,240.0 355.3,232.0 356.3,228.5 356.6,223.5 355.5,216.0 353.5,210.6 345.2,211.4 341.5,213.0 336.8,214.4 334.2,215.9 328.0,217.4 321.2,221.1 314.5,227.8 313.8,228.1 308.2,229.1 299.8,229.9 291.2,232.0 287.0,232.2 282.2,234.3 277.5,233.3 276.0,233.4 274.2,238.8 271.8,241.9 270.2,245.0 270.7,246.2 272.0,248.3 275.2,250.0 279.1,253.2 280.9,257.2 284.7,261.0 286.0,265.0 288.0,268.4 290.1,269.8"/>
<path d="M321.0,269.8 321.8,267.8 322.8,266.4 330.2,259.7 334.5,256.8 337.0,253.9 340.9,250.8 342.9,248.2 346.4,245.0 347.7,242.8 348.2,239.0 354.4,231.8 355.5,228.2 355.8,223.2 354.5,216.0 352.5,211.9 345.5,212.2 341.5,214.1 337.2,215.5 335.0,217.1 330.5,217.7 328.2,218.5 321.5,222.4 315.2,228.9 313.0,229.5 306.0,230.6 302.8,231.7 298.5,231.9 291.5,233.8 287.2,234.1 282.0,236.7 277.3,236.0 276.4,240.0 273.2,245.0 273.5,245.8 280.9,252.0 282.8,256.2 286.4,259.5 288.8,263.4 291.2,265.7 293.1,269.8"/>
<path d="M316.4,269.8 318.0,268.8 319.8,266.5 325.2,261.8 332.5,256.5 335.8,252.5 339.8,249.9 344.7,245.0 346.3,242.8 346.7,239.2 347.2,237.8 349.2,236.2 353.5,231.5 354.7,228.5 355.1,223.2 353.6,216.2 351.8,213.1 348.0,212.9 345.8,213.2 338.0,216.5 335.7,218.2 330.8,218.8 329.0,219.4 326.0,221.5 321.8,223.6 317.0,229.5 311.5,231.0 306.5,231.7 302.2,233.5 295.5,234.5 288.0,236.5 279.8,240.9 277.4,244.5 279.9,248.2 282.9,251.8 284.8,255.5 288.3,258.0 294.3,267.2 297.2,269.8"/>
<path d="M313.3,269.8 316.7,265.8 321.0,263.8 324.9,260.2 331.2,256.1 334.8,251.6 337.5,249.8 339.0,249.2 344.5,243.8 345.4,242.0 345.7,238.8 346.6,237.0 348.5,235.7 352.4,231.8 353.9,228.8 354.5,225.0 354.4,222.0 352.8,216.2 351.2,214.0 348.5,213.6 346.2,213.9 338.5,217.3 336.0,219.1 329.5,220.1 326.5,222.3 322.2,224.4 318.2,230.4 314.8,230.8 311.0,232.2 306.8,232.6 301.8,234.9 295.0,236.0 288.2,238.2 285.5,239.5 280.7,243.0 280.3,243.8 281.1,247.0 284.7,251.5 286.1,254.5 289.5,256.6 291.0,259.6 295.0,265.1 297.8,266.8 301.1,269.8"/>
<path d="M311.0,269.8 312.7,266.8 314.2,265.2 316.2,263.9 320.2,262.4 324.8,258.4 330.0,255.5 331.3,254.2 333.6,250.8 336.2,249.1 338.2,248.5 343.3,243.8 344.2,242.0 344.8,238.5 346.1,236.2 348.5,234.5 351.7,231.2 353.2,228.5 353.8,225.0 353.8,222.2 352.1,216.8 350.8,214.7 348.5,214.4 346.5,214.7 338.8,218.1 336.5,219.8 329.5,221.1 322.8,225.4 319.6,231.2 315.0,231.5 311.0,233.3 306.8,233.7 301.2,236.2 294.8,237.2 287.5,240.3 282.3,244.0 282.3,245.8 283.0,247.2 286.9,250.5 288.4,253.0 290.3,254.5 292.5,259.3 296.5,263.2 299.5,265.0 302.0,267.8 305.5,269.8"/>
<path d="M306.2,266.8 307.8,265.9 311.0,265.4 314.8,262.9 319.8,260.6 324.5,256.2 329.1,254.5 330.4,253.2 332.3,249.8 335.0,248.2 337.5,247.6 342.1,243.5 343.1,241.8 344.1,238.0 345.6,235.5 350.9,231.0 352.5,228.3 353.3,222.5 351.4,217.2 350.2,215.5 348.8,215.2 346.8,215.6 339.2,218.7 336.8,220.5 329.5,222.1 323.6,226.5 320.5,232.1 315.5,232.2 313.3,233.0 311.3,234.5 307.0,234.9 301.0,237.4 298.2,237.4 296.0,237.8 294.5,238.5 292.9,240.2 289.5,242.4 285.8,243.7 284.0,244.8 284.9,247.0 289.1,249.0 291.5,252.1 292.2,253.5 292.6,257.0 293.4,258.2 296.5,260.1 298.2,262.1 301.3,264.2 303.4,266.2 304.8,266.8 306.2,266.8"/>
<path d="M306.2,264.5 308.2,263.4 311.5,262.8 319.5,258.8 323.5,254.8 327.2,253.7 328.5,253.0 330.1,249.5 331.5,248.1 333.2,246.9 335.5,246.9 336.8,246.5 341.2,242.5 342.3,241.0 343.4,237.5 345.2,234.5 349.7,231.0 351.7,228.0 352.6,222.5 351.9,220.2 349.6,216.2 347.5,216.4 341.2,218.6 338.8,219.8 337.2,221.2 329.5,223.1 325.6,226.5 321.7,233.0 318.2,232.7 316.0,232.9 313.8,233.8 312.0,235.6 307.2,236.1 302.0,238.3 297.8,238.2 295.7,239.2 295.2,240.2 295.3,241.5 292.1,244.2 291.1,247.5 293.8,252.5 294.0,256.5 295.0,257.5 298.8,258.9 300.5,261.5 304.2,264.2 305.5,264.7 306.2,264.5"/>
<path d="M306.0,262.0 309.0,259.5 314.8,259.0 319.2,257.5 322.8,253.9 327.0,252.0 329.0,248.3 331.6,245.5 334.0,245.4 336.0,244.8 340.8,241.0 344.5,233.7 349.0,230.6 351.0,227.5 351.9,224.2 352.0,222.5 351.1,220.2 349.0,217.4 348.0,217.3 341.5,219.2 339.1,220.5 337.5,222.1 331.0,223.4 329.2,224.2 326.9,226.5 322.5,234.3 319.2,233.4 316.8,233.4 314.3,234.5 313.0,236.6 306.8,237.8 302.2,239.8 299.8,238.8 298.2,239.0 297.3,239.5 297.0,240.5 297.8,241.8 294.5,244.5 293.6,245.8 293.7,249.2 295.9,252.5 296.9,255.5 300.7,257.5 303.5,260.8 305.0,261.8 306.0,262.0"/>
<path d="M306.0,259.0 307.8,257.7 309.5,257.0 314.8,257.3 318.6,256.5 321.9,253.2 325.7,251.0 330.2,244.4 334.5,243.6 340.2,239.8 343.2,234.4 343.7,232.2 347.8,230.5 350.0,228.0 351.4,223.0 351.0,221.5 349.8,219.7 347.8,218.3 344.0,219.1 340.0,220.8 338.8,222.0 338.2,223.3 331.8,224.1 329.4,225.0 327.7,226.8 324.3,233.2 323.5,237.9 322.6,237.8 322.7,236.2 321.1,234.8 319.0,234.0 316.8,234.1 314.8,235.4 314.5,237.3 305.5,239.8 301.5,242.5 298.5,243.4 296.5,244.8 295.1,247.0 295.2,248.5 295.8,250.2 299.5,254.9 304.5,258.6 306.0,259.0"/>
<path d="M300.4,240.5 300.7,240.0 300.2,239.6 298.8,240.0 299.2,240.6 300.4,240.5"/>
<path d="M315.8,255.8 318.0,255.2 320.7,252.8 324.5,250.2 327.8,245.8 328.8,243.0 333.2,242.5 339.5,238.8 342.4,233.8 342.5,230.5 346.8,230.0 348.2,229.0 349.5,227.3 350.7,223.0 350.2,221.6 349.2,220.3 347.2,219.2 344.0,219.8 341.8,220.7 340.2,221.8 339.4,223.0 339.0,224.8 336.5,224.4 333.0,224.7 330.8,225.2 329.4,226.0 328.0,227.8 325.1,234.5 325.0,236.8 325.8,240.1 319.5,238.6 315.8,238.4 313.0,238.7 306.2,241.1 301.8,244.4 298.0,245.5 296.7,247.0 296.6,248.5 297.4,250.0 300.2,252.1 301.5,254.0 303.8,255.5 304.5,255.8 310.2,255.2 315.8,255.8"/>
<path d="M318.6,238.0 320.6,237.2 320.9,236.5 320.5,235.5 318.2,234.6 316.1,235.2 315.5,236.2 316.0,237.2 317.0,237.8 318.6,238.0"/>
<path d="M332.0,241.0 337.5,238.8 339.1,237.5 341.6,233.0 341.6,229.0 346.0,229.1 348.3,227.8 349.5,225.8 350.0,223.8 349.8,222.2 348.8,220.9 346.5,220.0 344.2,220.4 342.2,221.2 340.5,223.1 340.0,226.5 336.8,225.4 334.0,225.3 331.0,225.9 329.3,227.2 326.6,234.0 326.4,236.5 328.5,240.6 332.0,241.0"/>
<path d="M318.3,237.0 319.4,236.5 319.2,235.7 318.0,235.2 316.8,235.8 317.0,236.7 318.3,237.0"/>
<path d="M315.5,254.0 322.0,250.5 323.9,249.0 326.6,245.2 326.9,243.8 326.5,242.2 321.0,240.2 314.5,239.7 308.9,241.0 304.6,244.0 303.5,245.8 303.4,247.2 305.0,250.8 306.2,252.4 309.5,253.8 313.8,254.2 315.5,254.0"/>
<path d="M346.3,228.0 348.4,226.5 349.4,223.5 348.5,221.7 346.0,220.7 343.8,221.3 342.0,222.5 341.3,224.0 341.1,226.2 341.5,227.1 342.5,227.7 346.3,228.0"/>
<path d="M333.9,238.8 336.2,238.2 338.0,237.2 340.0,234.5 340.9,232.2 340.9,229.8 340.1,227.8 336.0,226.2 332.8,226.3 330.2,227.4 329.0,229.5 328.2,233.5 328.3,236.2 330.0,238.4 333.9,238.8"/>
<path d="M318.2,236.0 317.8,236.0 318.2,236.0"/>
<path d="M314.1,252.5 320.2,249.9 322.2,248.6 324.9,245.5 325.2,244.2 324.8,243.2 320.0,241.5 314.2,241.0 310.0,241.6 307.2,243.2 305.6,245.0 305.1,246.5 305.4,248.2 306.6,250.2 307.8,251.4 309.2,252.1 311.2,252.6 314.1,252.5"/>
<path d="M346.7,227.0 348.3,225.5 348.6,223.2 347.5,221.9 345.2,221.5 342.8,223.0 342.2,225.5 342.8,226.3 344.0,227.0 346.7,227.0"/>
<path d="M335.8,237.2 337.8,236.2 339.5,233.8 340.2,231.8 340.0,229.6 339.2,228.4 336.8,227.3 334.5,226.9 332.5,227.2 331.0,228.0 330.0,229.5 329.6,231.8 329.9,234.5 330.5,235.6 331.8,236.8 334.2,237.4 335.8,237.2"/>
<path d="M313.3,251.0 319.8,248.5 321.3,247.0 322.1,245.0 319.2,243.1 315.5,242.3 311.8,242.2 309.0,243.1 306.9,245.5 306.7,246.8 307.1,248.0 309.3,250.2 313.3,251.0"/>
<path d="M346.6,226.2 347.8,225.0 347.8,223.2 346.5,222.3 344.5,222.7 343.5,223.8 343.7,225.2 345.0,226.3 346.6,226.2"/>
<path d="M335.3,236.2 336.9,235.8 338.2,234.3 339.3,232.2 339.4,230.5 338.8,229.2 337.5,228.4 335.5,227.7 333.5,227.7 332.1,228.2 331.1,229.2 330.7,230.8 330.8,232.5 331.3,234.0 332.8,235.5 335.3,236.2"/>
<path d="M315.5,248.8 317.2,248.2 318.6,247.0 318.3,245.5 317.0,244.2 314.5,243.3 312.0,243.1 310.2,243.5 308.9,244.8 308.5,246.5 309.7,248.0 311.2,248.5 315.5,248.8"/>
<path d="M418.0,269.2 436.8,268.0 441.5,266.7 442.5,266.0 443.0,265.0 442.9,263.2 439.9,256.0 440.3,251.8 443.4,239.0 450.6,221.5 452.6,215.2 453.5,210.8 453.2,207.8 451.8,205.0 447.5,202.3 439.5,199.7 432.0,198.5 423.5,197.9 414.2,198.3 404.8,200.3 399.0,202.9 394.9,206.2 392.8,209.8 390.8,217.5 390.5,225.5 391.6,237.0 394.5,251.0 394.8,254.2 394.2,256.5 389.4,263.8 389.1,266.0 391.0,267.4 396.2,268.5 401.5,268.4 408.0,269.2 418.0,269.2"/>
<path d="M415.7,265.0 419.5,264.6 423.8,263.2 436.5,262.2 435.6,253.8 436.9,246.0 439.9,238.2 443.2,232.0 446.1,223.0 448.0,220.0 449.6,212.5 449.3,209.8 448.6,208.5 446.6,206.2 445.2,205.2 439.5,203.3 433.0,201.9 427.5,201.7 424.0,200.5 419.0,200.9 417.0,200.7 412.0,201.3 404.5,202.9 402.2,203.8 397.5,207.8 394.5,211.9 392.6,220.0 392.4,222.0 392.5,224.8 393.6,230.0 393.7,236.2 395.7,242.2 396.3,245.8 398.2,250.2 399.1,254.5 398.6,256.5 397.3,259.2 396.9,262.5 403.0,264.5 407.5,264.2 412.2,265.1 415.7,265.0"/>
<path d="M415.4,260.0 425.2,258.6 430.9,259.0 430.5,253.8 430.7,252.2 432.5,247.5 434.2,244.6 435.9,240.2 439.7,232.8 442.4,226.0 444.9,218.0 446.0,210.0 443.8,208.1 432.8,204.4 427.5,204.0 424.5,203.2 421.0,203.6 417.5,203.1 413.5,203.3 404.0,205.1 398.9,209.2 396.2,212.5 394.1,222.5 395.4,230.0 395.6,236.0 396.6,239.0 398.1,241.8 399.2,245.2 401.8,250.0 403.7,255.8 403.7,257.8 402.2,260.0 408.5,259.2 415.4,260.0"/>
<path d="M419.2,256.8 422.8,256.0 425.8,254.5 431.5,243.5 433.5,238.8 436.0,235.4 441.1,221.8 442.0,218.0 442.5,211.8 438.2,208.8 430.5,206.4 424.2,205.9 421.0,206.2 414.0,205.5 404.8,206.9 402.5,208.2 400.0,210.4 398.7,211.8 397.6,214.0 397.2,217.0 395.9,221.5 397.6,235.8 399.9,240.5 401.2,244.2 404.8,248.8 406.2,252.2 408.1,255.5 410.5,256.1 419.2,256.8"/>
<path d="M419.1,254.0 423.8,252.6 427.2,246.5 431.2,237.6 434.6,233.2 438.9,222.5 439.9,217.5 440.0,213.0 437.2,210.9 430.0,208.5 420.2,208.2 414.2,207.3 405.2,208.7 403.2,209.6 400.2,212.4 399.4,214.0 397.5,220.8 397.9,228.0 399.4,235.5 403.2,243.2 406.8,247.2 410.8,253.2 414.5,253.0 419.1,254.0"/>
<path d="M416.8,250.5 421.4,250.0 424.0,245.2 425.1,241.5 428.5,237.8 433.5,230.5 436.6,223.8 437.6,218.0 437.8,214.2 435.5,212.5 427.5,210.4 419.8,210.2 416.2,209.3 413.5,209.1 409.0,209.7 405.0,210.8 402.5,212.6 401.4,214.2 398.8,221.2 399.4,227.8 401.5,235.2 406.3,242.8 409.7,245.8 411.8,249.5 413.2,250.5 416.8,250.5"/>
<path d="M416.4,247.8 418.8,247.0 420.0,244.2 423.8,239.0 427.7,235.8 431.3,230.8 435.1,223.0 435.6,217.2 435.6,215.5 435.2,215.2 426.8,212.0 419.2,211.9 413.8,210.7 407.8,211.5 405.0,212.6 403.4,214.0 400.0,221.0 400.7,228.0 403.5,234.8 405.8,238.2 415.5,247.8 416.4,247.8"/>
<path d="M417.5,241.0 420.5,238.7 422.3,236.2 425.2,234.7 429.5,230.5 433.0,223.2 433.5,219.8 433.1,217.0 428.8,214.4 426.2,213.4 421.2,213.3 418.8,213.7 412.2,212.2 408.2,212.7 404.8,214.7 401.6,220.2 401.1,222.5 401.7,227.5 407.0,236.5 409.0,238.7 412.8,241.0 417.5,241.0"/>
<path d="M414.8,238.8 417.5,238.1 421.2,234.0 425.8,231.8 428.2,229.7 430.0,226.8 431.5,223.0 431.9,219.5 431.4,217.5 428.8,215.8 426.5,214.8 421.2,214.5 418.5,215.2 411.8,213.4 408.5,213.7 405.5,215.5 402.3,221.5 402.1,223.8 402.6,227.5 404.5,230.4 410.2,237.4 412.5,238.7 414.8,238.8"/>
<path d="M413.8,237.2 417.5,235.8 420.8,232.5 425.5,230.3 427.6,228.5 429.1,226.0 430.1,223.0 430.6,219.2 430.4,218.2 429.8,217.8 426.8,216.2 421.2,215.5 418.2,216.4 410.8,214.2 408.2,214.6 406.2,215.9 403.2,221.8 402.9,224.5 403.3,227.2 405.0,229.7 409.2,233.5 411.5,236.4 412.5,237.0 413.8,237.2"/>
<path d="M414.3,235.5 417.8,234.1 420.2,231.6 424.5,229.7 427.0,227.6 428.2,225.8 429.0,223.8 429.5,219.8 429.2,218.5 427.2,217.4 421.8,216.2 420.0,216.4 418.0,217.4 410.5,214.8 408.5,215.1 406.8,216.2 403.9,221.8 403.6,224.8 404.0,227.2 405.8,229.5 412.2,235.1 413.2,235.6 414.3,235.5"/>
<path d="M415.0,233.5 417.8,232.9 420.0,230.6 423.2,229.4 426.0,227.2 428.0,224.0 428.5,219.2 426.8,218.2 421.8,216.9 419.8,217.2 418.0,218.6 410.8,215.5 409.0,215.5 407.3,216.5 404.5,221.8 404.1,225.0 404.5,227.2 406.5,229.4 412.0,233.2 413.5,233.7 415.0,233.5"/>
<path d="M413.8,232.2 418.0,231.5 419.5,229.7 422.2,228.8 425.0,227.0 427.2,223.8 427.5,219.9 425.8,218.9 421.2,217.6 419.5,218.2 418.0,220.1 416.5,219.0 410.8,216.2 409.2,216.1 407.8,216.8 406.0,219.5 405.0,221.8 404.7,224.5 404.9,226.8 406.0,228.3 408.5,230.1 411.8,232.0 413.8,232.2"/>
<path d="M413.9,231.2 418.0,230.4 419.2,228.4 421.5,228.1 424.5,226.4 426.6,223.5 426.9,221.8 426.7,220.2 423.2,218.5 421.0,218.2 419.3,219.2 418.0,221.8 416.0,219.6 411.0,216.9 409.5,216.6 408.2,217.1 406.5,219.4 405.5,221.8 405.1,224.8 405.5,226.8 406.8,228.3 410.2,230.5 412.2,231.3 413.9,231.2"/>
<path d="M412.8,230.5 417.5,229.2 418.2,228.6 418.8,227.0 421.2,227.1 424.0,225.9 426.0,223.5 426.2,220.8 423.5,219.1 421.0,218.9 419.6,220.0 418.0,223.4 416.5,221.0 415.2,219.9 410.5,217.4 408.6,217.5 407.0,219.3 406.0,221.5 405.6,224.0 405.8,226.2 406.6,227.5 408.2,228.8 410.8,230.1 412.8,230.5"/>
<path d="M413.5,229.5 416.0,228.6 417.2,227.8 418.0,226.0 417.8,224.5 416.4,222.0 415.0,220.5 411.0,218.2 409.2,217.9 407.6,219.2 406.5,221.2 406.0,223.5 406.3,226.0 407.3,227.5 409.8,229.0 411.8,229.7 413.5,229.5"/>
<path d="M422.1,226.0 424.8,224.5 425.7,222.0 425.5,221.0 424.8,220.3 422.0,219.4 420.9,219.8 420.0,220.8 418.9,224.8 419.0,225.5 419.5,225.8 422.1,226.0"/>
<path d="M413.0,228.8 415.2,227.9 416.4,227.0 417.0,225.8 417.0,224.2 415.8,222.0 414.2,220.6 411.0,218.8 409.2,218.6 407.8,219.8 406.8,221.5 406.4,223.8 406.7,225.8 407.5,227.0 409.5,228.3 411.2,228.9 413.0,228.8"/>
<path d="M422.9,225.0 424.6,223.8 425.2,221.8 424.0,220.4 422.0,220.0 421.1,220.5 420.4,221.5 420.0,224.2 420.2,224.8 421.0,225.1 422.9,225.0"/>
</g>
<g clip-path="url(#c3l)" fill="none" stroke="#000" stroke-width="1.0" stroke-linejoin="round">
<path d="M174.4,780.2 179.0,779.6 183.2,778.3 187.2,776.6 192.2,773.5 196.5,769.5 200.6,762.8 203.3,755.0 203.8,751.2 203.6,748.8 202.4,745.2 200.5,742.1 197.1,737.5 194.5,734.9 189.0,730.9 185.5,729.1 177.2,726.6 169.0,725.5 163.5,725.5 158.2,726.5 144.2,727.3 132.8,728.8 125.2,729.0 121.0,730.4 119.5,731.2 117.5,733.3 113.4,740.0 112.6,742.0 113.0,743.8 118.5,749.7 119.6,752.0 119.5,754.2 117.5,758.8 112.6,764.2 112.6,765.8 114.5,768.2 118.8,771.2 121.5,772.5 130.5,775.3 136.5,776.7 148.8,778.5 160.0,779.1 169.2,780.3 174.4,780.2"/>
<path d="M176.3,777.5 183.8,775.1 191.0,771.6 194.4,768.8 197.9,763.5 200.8,754.2 201.5,749.5 201.4,748.2 200.2,746.1 197.2,742.5 195.2,738.6 193.5,736.7 190.0,734.5 187.0,731.9 184.9,730.8 170.8,728.1 161.2,728.5 153.2,730.1 144.8,729.3 141.2,730.2 137.2,730.3 133.0,731.9 128.8,732.0 123.5,733.2 121.5,734.2 116.9,741.8 118.7,744.5 121.3,747.2 122.7,751.0 121.8,758.0 120.7,761.0 118.3,765.0 121.2,769.0 135.8,774.4 142.8,775.5 147.2,776.8 156.8,776.7 161.2,777.3 176.3,777.5"/>
<path d="M175.7,775.2 181.7,773.5 191.8,768.5 196.2,762.5 198.1,757.0 199.6,749.8 199.3,748.0 195.8,743.8 193.4,739.8 185.8,733.2 183.0,732.1 170.5,730.2 168.5,730.7 163.0,730.7 159.0,732.1 153.2,732.9 145.2,732.4 138.5,732.7 133.5,735.0 129.2,735.3 125.8,736.1 124.0,737.2 122.7,738.8 121.8,741.0 123.6,743.8 125.1,750.8 125.3,757.0 124.7,759.5 122.2,764.8 124.2,767.0 130.8,770.2 137.5,772.8 143.0,773.8 147.5,775.2 158.2,774.6 163.8,773.7 168.5,775.1 175.7,775.2"/>
<path d="M149.0,773.2 155.8,772.9 160.0,770.9 163.2,770.3 168.8,772.7 170.5,773.1 177.5,772.7 180.2,772.0 188.5,768.2 191.2,766.2 194.8,761.0 196.6,756.2 197.3,750.2 197.0,748.8 191.5,740.5 184.8,735.1 181.5,733.6 173.5,732.4 172.0,732.4 168.8,733.3 163.5,733.1 159.2,735.1 155.2,734.8 139.2,734.8 138.2,735.1 135.8,737.0 133.5,738.1 128.2,738.7 126.0,739.5 125.3,741.0 125.9,742.5 126.8,747.8 127.3,753.5 127.9,756.5 126.0,763.5 131.3,767.8 139.2,771.7 147.8,773.4 149.0,773.2"/>
<path d="M149.1,771.2 152.0,770.6 155.5,770.6 158.5,768.8 162.8,767.6 167.8,768.8 171.0,770.1 178.0,770.4 179.8,770.0 188.5,765.9 191.1,763.2 194.9,755.8 195.1,750.2 193.6,746.2 189.9,741.2 186.8,738.6 181.0,735.7 175.5,734.8 164.0,735.9 162.4,736.8 159.5,739.6 155.2,737.5 150.8,737.5 146.0,736.6 143.5,736.9 139.5,737.8 136.8,739.4 129.8,742.2 130.7,746.8 129.8,752.0 130.9,756.0 129.5,760.0 129.3,762.2 132.8,765.6 140.2,770.4 146.0,771.4 149.1,771.2"/>
<path d="M147.0,770.8 155.8,769.8 159.8,768.5 161.0,767.8 162.4,762.5 163.4,754.0 163.0,751.2 161.3,747.2 160.0,737.9 157.8,736.9 149.8,735.7 146.2,736.1 141.5,737.3 136.5,737.1 134.0,737.9 131.2,737.9 130.3,738.2 128.4,739.8 131.0,745.5 131.6,748.8 131.1,752.0 130.9,757.2 130.4,759.0 129.1,761.2 128.7,763.8 132.2,766.2 143.8,770.3 147.0,770.8"/>
<path d="M147.7,768.5 150.2,768.0 156.2,765.8 158.2,764.6 158.8,762.0 158.8,756.8 159.3,752.0 157.0,744.2 156.5,740.8 154.8,740.0 146.8,739.0 142.0,740.4 138.5,740.8 133.7,742.8 134.6,746.2 134.7,749.0 134.0,758.5 132.9,761.5 138.8,765.7 145.8,768.6 147.7,768.5"/>
<path d="M148.5,766.2 151.2,765.3 156.2,762.2 156.7,752.5 153.8,744.3 150.5,742.7 146.8,741.7 140.2,743.6 137.9,745.0 136.7,755.8 136.7,759.8 138.3,762.5 139.7,763.8 145.8,766.4 148.5,766.2"/>
<path d="M148.3,764.8 151.1,763.5 154.2,760.8 154.5,760.2 154.3,755.0 154.0,752.0 152.2,746.3 150.0,744.8 147.0,744.1 142.5,745.2 140.2,746.5 140.2,750.0 138.7,755.2 138.8,758.5 140.0,761.1 141.1,762.2 145.5,764.7 148.3,764.8"/>
<path d="M148.1,763.5 150.2,762.2 151.8,760.0 152.5,758.2 152.3,755.2 151.8,751.5 150.5,748.3 148.2,746.5 146.2,746.3 143.8,747.0 142.4,748.2 140.7,757.5 141.9,760.2 143.8,762.2 146.0,763.6 148.1,763.5"/>
<path d="M147.4,762.5 148.7,761.8 149.6,760.5 150.9,756.2 150.2,752.2 149.3,750.0 147.8,749.0 146.2,748.8 145.0,749.2 144.1,750.0 142.9,753.2 142.4,756.5 142.9,759.0 144.1,761.0 145.8,762.3 147.4,762.5"/>
<path d="M146.8,761.2 147.8,760.8 148.7,759.5 149.4,755.8 148.3,752.2 147.8,751.6 146.8,751.4 145.8,751.7 144.8,752.9 143.9,755.0 143.7,756.5 144.0,758.5 144.7,760.0 145.8,761.0 146.8,761.2"/>
<path d="M181.5,774.8 185.2,774.4 189.0,773.1 193.5,770.2 196.2,767.5 198.1,764.8 200.6,759.2 201.7,754.8 201.8,751.5 201.7,748.2 200.6,743.8 198.1,738.0 196.4,735.5 193.5,732.6 189.2,729.8 185.5,728.5 181.5,728.2 177.8,728.6 173.8,729.9 169.5,732.7 166.7,735.5 164.4,739.0 162.6,743.0 161.4,748.2 161.3,751.5 161.3,754.8 162.4,759.2 164.6,764.5 166.6,767.5 169.5,770.3 173.8,773.1 177.5,774.4 181.5,774.8"/>
<path d="M179.9,773.5 186.0,773.1 188.6,771.8 193.8,768.2 196.7,764.0 199.8,757.2 200.4,754.2 200.4,748.8 199.9,746.0 198.4,741.8 196.2,737.0 193.0,733.5 191.0,732.1 187.5,730.2 185.0,729.5 179.5,729.5 177.0,729.9 174.0,731.1 170.1,733.8 167.7,736.0 164.9,740.5 163.8,743.2 163.4,746.0 162.8,755.8 165.8,764.2 168.6,767.8 172.2,770.8 177.0,773.1 179.9,773.5"/>
<path d="M184.9,772.0 186.2,771.5 192.0,768.0 194.0,766.0 198.6,755.5 198.9,754.0 198.7,747.5 197.8,743.8 195.6,738.5 192.4,734.5 188.5,731.9 185.8,730.7 178.2,730.8 176.0,731.6 173.0,733.3 168.6,736.8 166.8,739.4 165.5,742.0 165.0,743.8 164.3,755.5 166.8,763.2 171.0,768.2 174.8,770.6 177.5,771.8 179.8,772.1 184.9,772.0"/>
<path d="M183.3,770.8 185.2,770.2 191.2,766.8 193.5,764.0 196.5,756.5 197.3,753.8 197.2,746.5 196.2,743.0 194.1,738.5 190.8,734.7 186.0,731.9 178.5,731.9 175.2,733.3 172.4,736.0 169.0,738.5 167.4,740.8 166.6,742.8 166.0,749.2 166.0,755.2 168.0,762.1 171.6,767.2 173.8,768.7 177.2,770.3 183.3,770.8"/>
<path d="M180.4,769.5 182.8,769.4 184.8,768.8 190.5,765.2 193.0,761.5 195.2,756.2 195.8,753.5 196.0,746.8 195.0,743.2 192.3,738.2 191.0,736.5 186.5,733.4 185.2,732.9 178.8,732.9 175.8,734.4 168.8,741.2 168.0,743.2 167.3,748.0 167.5,755.0 169.2,761.3 171.3,765.0 173.1,767.0 175.8,768.5 178.0,769.3 180.4,769.5"/>
<path d="M182.1,767.8 184.2,766.9 187.0,765.2 189.8,762.8 191.1,759.8 193.5,755.8 194.3,748.2 193.4,744.0 189.8,738.0 185.5,734.8 182.8,734.2 179.0,734.4 177.2,735.1 171.2,741.2 169.7,744.0 168.5,749.8 168.8,753.2 170.6,760.0 173.2,764.9 175.2,766.4 178.0,767.7 180.2,768.0 182.1,767.8"/>
<path d="M180.5,766.2 183.1,765.2 187.3,761.8 189.0,758.5 191.5,755.0 192.2,750.0 192.0,745.8 189.0,740.0 187.8,738.5 185.0,736.5 182.5,735.6 180.5,735.7 178.5,736.4 176.2,737.9 174.7,739.5 171.4,744.8 170.4,747.5 170.1,749.8 170.4,753.0 172.9,760.8 174.8,763.0 177.5,765.3 178.8,766.0 180.5,766.2"/>
<path d="M181.4,764.0 185.2,761.1 189.4,755.0 190.3,752.8 190.6,748.8 190.2,745.2 187.8,740.6 184.5,737.9 182.2,737.0 178.8,737.9 176.0,740.0 172.4,746.5 171.5,750.0 171.8,752.8 173.3,758.0 174.2,759.8 179.2,763.8 181.4,764.0"/>
<path d="M181.4,761.5 184.1,759.8 187.3,755.5 188.5,752.8 188.8,750.2 188.7,746.0 187.0,742.0 184.8,739.7 182.0,738.7 179.1,739.5 177.1,741.0 173.8,747.5 173.1,750.2 174.3,756.0 175.4,758.5 176.8,759.9 178.5,760.9 180.0,761.5 181.4,761.5"/>
<path d="M181.6,759.2 183.0,758.4 184.4,756.8 186.4,753.5 186.9,751.5 186.7,746.0 186.1,743.5 184.5,741.2 182.2,740.4 180.0,741.0 178.3,742.5 175.5,747.8 174.9,750.2 175.6,754.8 176.8,757.4 179.0,759.1 180.5,759.4 181.6,759.2"/>
<path d="M181.5,756.8 184.4,753.0 185.1,750.5 184.9,744.5 183.8,742.8 182.5,742.2 181.0,742.6 179.5,743.9 177.2,747.8 176.5,750.0 176.8,753.2 177.8,755.5 179.5,756.8 181.5,756.8"/>
</g>
<g clip-path="url(#c3r)" fill="none" stroke="#000" stroke-width="1.0" stroke-linejoin="round">
<path d="M414.4,772.8 417.0,772.3 420.5,771.0 425.2,768.0 428.3,765.0 431.5,759.8 433.8,752.2 434.0,743.5 432.7,738.8 430.2,733.2 428.4,730.5 426.4,728.2 423.5,726.1 419.0,723.8 411.5,721.2 407.2,720.4 401.2,720.6 396.5,721.9 393.0,724.2 386.0,727.6 383.8,728.2 378.5,728.2 375.2,728.7 372.5,729.9 369.5,732.0 356.8,734.7 354.5,735.7 352.7,737.2 350.7,742.2 349.9,746.8 350.4,749.2 351.7,752.2 353.8,754.3 357.8,755.9 368.2,755.8 370.5,756.5 371.5,758.0 372.1,761.2 374.5,764.0 378.5,766.7 383.8,769.2 389.0,769.8 396.8,771.9 401.2,772.6 414.4,772.8"/>
<path d="M410.7,770.0 418.2,768.7 421.0,767.5 423.2,766.0 426.3,763.0 428.1,760.5 430.5,754.8 431.2,750.5 431.2,748.5 431.1,743.8 430.2,740.0 427.1,734.0 423.8,730.5 422.2,729.5 416.5,726.7 411.0,725.0 405.0,724.7 399.5,725.3 387.5,731.5 385.0,732.3 380.2,732.7 376.2,734.0 375.1,735.0 374.2,737.5 371.0,739.9 368.2,740.9 365.8,740.7 365.2,743.0 365.7,752.2 368.2,752.1 370.5,753.5 374.5,757.2 377.7,762.2 380.2,764.2 383.5,765.8 390.8,767.2 398.5,769.4 403.5,770.0 410.7,770.0"/>
<path d="M407.8,768.2 417.8,766.6 420.6,765.5 422.2,764.5 425.7,761.0 428.3,756.2 429.8,750.0 429.6,744.2 429.0,741.2 428.4,739.5 425.8,734.9 421.2,730.8 418.5,729.5 410.5,727.0 405.5,727.1 399.2,727.8 386.5,734.2 385.2,734.6 381.0,734.9 378.0,736.0 376.2,739.0 374.2,740.8 371.3,742.8 368.1,743.8 367.6,746.5 368.2,749.2 370.2,749.8 371.5,750.7 373.8,753.8 376.3,756.0 378.9,760.0 382.8,763.2 385.8,764.5 398.8,767.7 407.8,768.2"/>
<path d="M407.5,766.5 417.0,765.1 419.7,764.0 421.2,763.0 424.9,759.5 427.0,755.8 428.6,749.8 428.4,744.2 427.8,741.0 423.9,734.8 422.0,732.9 419.2,731.1 410.2,728.8 399.5,729.5 391.2,733.1 385.8,736.2 379.5,737.6 378.0,740.5 375.8,742.6 373.2,744.2 370.5,745.5 370.7,747.5 373.2,748.8 375.2,752.2 378.0,755.1 380.6,758.8 384.5,762.2 392.0,764.6 398.2,766.0 407.5,766.5"/>
<path d="M407.4,765.0 415.5,764.0 418.0,763.2 423.7,758.5 425.6,755.5 427.4,749.8 427.4,744.5 427.0,742.0 426.4,740.5 423.0,735.5 418.8,732.2 415.2,731.0 408.8,730.4 404.8,730.9 400.8,730.8 399.0,731.3 393.8,733.3 386.0,737.6 380.8,739.4 376.8,744.6 374.6,746.5 376.7,750.8 382.0,757.8 385.8,761.1 393.2,763.6 398.5,764.8 407.4,765.0"/>
<path d="M405.4,763.8 415.0,762.5 417.0,761.9 422.9,757.0 424.6,753.8 425.9,749.2 426.3,744.8 425.7,741.8 422.0,736.2 420.0,734.4 417.2,732.7 414.8,732.1 407.2,731.9 405.0,732.4 401.0,732.3 396.8,733.5 394.2,734.5 386.5,738.9 381.8,740.8 377.5,746.8 383.4,756.8 386.8,759.9 397.8,763.6 401.0,763.9 405.4,763.8"/>
<path d="M403.1,762.8 407.5,761.8 414.2,761.1 416.0,760.5 420.6,757.0 423.2,753.2 424.4,749.2 425.0,745.0 424.8,742.6 424.1,741.0 421.7,737.8 419.8,735.7 417.2,734.1 414.8,733.5 411.5,733.7 407.5,733.3 405.2,733.7 401.5,733.7 397.2,734.6 395.0,735.5 390.8,738.4 382.5,742.1 380.2,745.5 379.6,747.0 381.4,749.2 384.6,755.8 387.0,758.3 389.8,759.8 397.0,762.2 399.8,762.7 403.1,762.8"/>
<path d="M403.8,761.2 407.5,760.2 414.0,759.6 415.5,759.1 419.2,756.2 421.8,752.9 423.0,749.2 423.8,745.0 423.6,743.2 423.1,741.8 421.8,739.8 418.0,736.0 415.5,735.1 407.8,734.8 405.5,735.3 401.8,735.2 398.2,735.9 395.8,736.7 391.5,739.8 383.2,744.1 382.0,747.0 383.1,748.5 385.6,754.5 388.2,757.1 390.5,758.6 397.5,761.0 400.0,761.4 403.8,761.2"/>
<path d="M401.1,760.0 405.0,759.5 411.2,757.9 413.2,758.1 414.8,757.8 416.5,756.7 420.3,752.8 421.7,749.8 422.4,743.8 421.3,741.2 418.0,737.6 415.5,736.6 408.8,736.5 405.8,737.2 402.0,737.0 397.2,737.9 387.5,744.0 385.0,746.7 385.8,751.0 386.8,753.4 390.2,756.5 391.9,757.5 397.5,759.6 401.1,760.0"/>
<path d="M401.3,758.8 405.2,758.3 410.5,756.2 412.8,756.6 414.2,756.5 415.5,755.8 419.3,752.2 420.8,749.2 421.3,744.2 420.4,741.8 417.8,738.8 415.5,737.8 412.5,737.7 408.8,738.0 406.2,739.0 403.2,738.4 397.8,739.1 395.8,740.0 391.0,743.2 387.8,746.0 386.6,747.8 387.2,751.0 388.2,752.9 391.2,755.5 393.8,756.9 398.0,758.6 401.3,758.8"/>
<path d="M402.5,757.5 405.5,756.9 410.0,754.3 412.5,755.0 414.2,754.7 416.8,753.2 418.7,751.5 420.0,748.8 420.3,744.8 419.6,742.5 417.5,740.0 416.2,739.2 414.5,738.8 409.7,739.2 406.5,740.8 403.2,740.0 398.2,740.2 396.2,741.0 392.0,743.9 389.2,746.5 388.0,748.2 388.6,751.0 392.2,754.5 394.5,756.0 397.5,757.3 399.5,757.7 402.5,757.5"/>
<path d="M401.8,756.5 405.5,755.6 409.5,752.7 412.2,753.3 413.8,753.2 415.8,752.5 417.5,751.3 419.0,748.9 419.4,745.8 419.0,743.5 417.8,741.6 416.0,740.2 414.0,739.9 410.2,740.4 406.8,742.3 402.0,741.2 399.0,741.2 396.8,742.1 391.8,745.5 389.4,748.8 389.7,749.8 390.5,750.8 394.0,754.2 396.0,755.6 398.5,756.5 401.8,756.5"/>
<path d="M401.7,755.5 405.5,754.1 409.0,750.9 411.2,751.7 413.5,751.8 415.2,751.5 416.8,750.6 418.0,748.9 418.5,746.8 418.3,744.2 417.3,742.5 415.8,741.3 413.8,740.9 410.5,741.6 407.0,743.9 405.0,743.1 399.2,742.4 397.2,743.2 393.0,746.1 391.2,749.0 394.7,753.2 397.8,755.2 401.7,755.5"/>
<path d="M414.9,750.2 416.3,749.5 417.3,748.0 417.6,745.8 417.2,744.0 416.2,742.8 414.8,742.0 413.0,742.0 410.8,742.8 408.5,745.0 408.3,747.8 410.8,750.0 414.9,750.2"/>
<path d="M401.8,754.5 404.0,753.6 405.9,752.0 407.2,750.0 407.8,747.5 407.0,745.9 405.8,744.8 402.0,743.9 399.2,743.8 397.5,744.5 394.6,746.5 393.6,747.8 393.2,749.0 395.4,752.2 397.0,753.7 399.2,754.5 401.8,754.5"/>
<path d="M414.7,749.0 415.8,748.5 416.5,747.5 416.8,746.0 416.6,744.8 415.0,743.2 413.8,743.0 412.5,743.3 410.8,744.8 410.7,746.8 412.5,748.7 414.7,749.0"/>
<path d="M401.8,753.5 403.5,752.6 404.7,751.2 405.4,749.5 405.5,747.2 404.2,746.0 402.5,745.2 400.5,744.9 398.8,745.2 395.6,747.5 394.9,748.8 395.2,749.5 396.3,751.5 397.9,753.0 399.8,753.7 401.8,753.5"/>
<path d="M414.7,747.8 415.8,746.8 415.8,745.2 414.8,744.2 413.2,744.2 412.3,745.2 412.4,746.5 413.2,747.5 414.7,747.8"/>
<path d="M400.8,752.8 402.2,752.2 403.2,751.2 403.8,749.8 403.8,748.2 403.5,747.5 402.3,746.5 399.8,746.0 397.4,747.2 396.5,748.5 396.5,749.2 397.1,750.8 398.2,752.0 399.5,752.7 400.8,752.8"/>
<path d="M414.7,746.8 415.2,746.2 415.2,745.5 414.5,744.9 413.8,745.0 413.4,746.2 414.0,746.8 414.7,746.8"/>
<path d="M400.6,752.0 402.3,751.0 402.8,748.8 401.8,747.3 399.8,746.9 398.0,747.9 397.5,749.5 398.7,751.5 400.6,752.0"/>
<path d="M362.70,746.70 C362.70,747.17 362.42,747.78 362.06,748.11 C361.69,748.45 361.02,748.70 360.50,748.70 C359.98,748.70 359.31,748.45 358.94,748.11 C358.58,747.78 358.30,747.17 358.30,746.70 C358.30,746.23 358.58,745.62 358.94,745.29 C359.31,744.95 359.98,744.70 360.50,744.70 C361.02,744.70 361.69,744.95 362.06,745.29 C362.42,745.62 362.70,746.23 362.70,746.70Z"/>
<path d="M364.50,746.70 C364.50,747.57 364.00,748.70 363.33,749.32 C362.66,749.93 361.44,750.40 360.50,750.40 C359.56,750.40 358.34,749.93 357.67,749.32 C357.00,748.70 356.50,747.57 356.50,746.70 C356.50,745.83 357.00,744.70 357.67,744.08 C358.34,743.47 359.56,743.00 360.50,743.00 C361.44,743.00 362.66,743.47 363.33,744.08 C364.00,744.70 364.50,745.83 364.50,746.70Z"/>
<path d="M366.50,746.70 C366.50,748.02 365.74,749.73 364.74,750.66 C363.74,751.59 361.91,752.30 360.50,752.30 C359.09,752.30 357.26,751.59 356.26,750.66 C355.26,749.73 354.50,748.02 354.50,746.70 C354.50,745.38 355.26,743.67 356.26,742.74 C357.26,741.81 359.09,741.10 360.50,741.10 C361.91,741.10 363.74,741.81 364.74,742.74 C365.74,743.67 366.50,745.38 366.50,746.70Z"/>
</g>
<g clip-path="url(#c3l)" fill="none" stroke="#000" stroke-width="1.1"><ellipse cx="62.4" cy="837.3" rx="4.3" ry="5.2"/></g>
<g clip-path="url(#c3r)" fill="none" stroke="#000" stroke-width="1.1"><path d="M308.5,805.3 C312,799 315,798.2 317.5,798.2 C321.5,798.2 324.7,801.5 324.7,805.4 C324.7,809.5 321.5,812.6 317.5,812.6 C314.5,812.6 311,810.5 308.5,805.3Z"/><rect x="314.6" y="802.5" width="5.8" height="5.8" rx="1.5"/><circle cx="339.6" cy="850.6" r="6.7"/><rect x="336.9" y="847.9" width="5.4" height="5.4" rx="1.4"/></g>
<path d="M93.70,152.40 C94.02,150.80 95.15,148.53 96.60,146.60 C98.05,144.67 100.15,142.47 102.40,140.80 C104.65,139.13 107.22,137.62 110.10,136.60 C112.98,135.58 117.13,134.88 119.70,134.70 C122.27,134.52 123.90,134.63 125.50,135.50 C127.10,136.37 128.35,138.05 129.30,139.90 C130.25,141.75 130.23,145.00 131.20,146.60 C132.17,148.20 133.82,148.92 135.10,149.50 C136.38,150.08 137.88,149.62 138.90,150.10 C139.92,150.58 141.03,151.53 141.20,152.40 C141.37,153.27 140.77,154.67 139.90,155.30 C139.03,155.93 137.45,156.05 136.00,156.20 C134.55,156.35 132.95,156.03 131.20,156.20 C129.45,156.37 127.73,156.72 125.50,157.20 C123.27,157.68 120.37,158.47 117.80,159.10 C115.23,159.73 112.52,160.45 110.10,161.00 C107.68,161.55 105.38,162.55 103.30,162.40 C101.22,162.25 99.03,161.13 97.60,160.10 C96.17,159.07 95.35,157.48 94.70,156.20 C94.05,154.92 93.38,154.00 93.70,152.40Z" fill="none" stroke="#000" stroke-width="1.1" stroke-linejoin="round"/>
<path d="M323.40,144.40 C323.40,142.18 327.47,139.35 330.30,137.20 C333.13,135.05 336.70,132.85 340.40,131.50 C344.10,130.15 348.80,129.30 352.50,129.10 C356.20,128.90 359.57,130.43 362.60,130.30 C365.63,130.17 368.00,128.50 370.70,128.30 C373.40,128.10 376.45,128.10 378.80,129.10 C381.15,130.10 382.98,132.08 384.80,134.30 C386.62,136.52 389.37,140.58 389.70,142.40 C390.03,144.22 388.97,144.18 386.80,145.20 C384.63,146.22 380.40,147.28 376.70,148.50 C373.00,149.72 368.63,151.50 364.60,152.50 C360.57,153.50 356.53,154.37 352.50,154.50 C348.47,154.63 344.10,153.97 340.40,153.30 C336.70,152.63 333.13,151.98 330.30,150.50 C327.47,149.02 323.40,146.62 323.40,144.40Z" fill="none" stroke="#000" stroke-width="1.1" stroke-linejoin="round"/>
<path d="M348.50,140.40 C349.03,139.20 350.15,137.67 352.50,137.20 C354.85,136.73 359.57,137.88 362.60,137.60 C365.63,137.32 368.82,135.37 370.70,135.50 C372.58,135.63 373.57,137.25 373.90,138.40 C374.23,139.55 373.92,141.27 372.70,142.40 C371.48,143.53 369.30,144.53 366.60,145.20 C363.90,145.87 359.38,146.53 356.50,146.40 C353.62,146.27 350.63,145.40 349.30,144.40 C347.97,143.40 347.97,141.60 348.50,140.40Z" fill="none" stroke="#000" stroke-width="1.1" stroke-linejoin="round"/>
<g fill="#222">
<rect x="156.0" y="146.4" width="1.0" height="1.0"/>
<rect x="106.8" y="120.3" width="1.0" height="1.0"/>
<rect x="88.8" y="137.2" width="1.0" height="1.0"/>
<rect x="133.7" y="166.8" width="1.0" height="1.0"/>
<rect x="141.6" y="146.1" width="1.0" height="1.0"/>
<rect x="133.5" y="166.5" width="1.0" height="1.0"/>
<rect x="133.6" y="142.4" width="1.0" height="1.0"/>
<rect x="124.0" y="164.9" width="1.0" height="1.0"/>
<rect x="83.5" y="163.8" width="1.0" height="1.0"/>
<rect x="141.0" y="137.8" width="1.0" height="1.0"/>
<rect x="80.4" y="136.5" width="1.0" height="1.0"/>
<rect x="130.7" y="157.2" width="1.0" height="1.0"/>
<rect x="141.4" y="155.4" width="1.0" height="1.0"/>
<rect x="144.1" y="140.2" width="1.0" height="1.0"/>
<rect x="82.8" y="163.9" width="1.0" height="1.0"/>
<rect x="105.9" y="166.7" width="1.0" height="1.0"/>
<rect x="93.7" y="144.7" width="1.0" height="1.0"/>
<rect x="147.1" y="160.7" width="1.0" height="1.0"/>
<rect x="130.6" y="142.0" width="1.0" height="1.0"/>
<rect x="101.8" y="128.5" width="1.0" height="1.0"/>
<rect x="132.6" y="129.4" width="1.0" height="1.0"/>
<rect x="136.8" y="169.8" width="1.0" height="1.0"/>
<rect x="94.1" y="142.0" width="1.0" height="1.0"/>
<rect x="145.9" y="138.9" width="1.0" height="1.0"/>
<rect x="136.4" y="135.6" width="1.0" height="1.0"/>
<rect x="142.0" y="154.3" width="1.0" height="1.0"/>
<rect x="81.4" y="142.4" width="1.0" height="1.0"/>
<rect x="116.4" y="169.2" width="1.0" height="1.0"/>
<rect x="72.4" y="159.0" width="1.0" height="1.0"/>
<rect x="83.8" y="151.9" width="1.0" height="1.0"/>
<rect x="121.6" y="169.7" width="1.0" height="1.0"/>
<rect x="92.7" y="149.7" width="1.0" height="1.0"/>
<rect x="154.0" y="153.7" width="1.0" height="1.0"/>
<rect x="134.4" y="138.6" width="1.0" height="1.0"/>
<rect x="111.7" y="166.5" width="1.0" height="1.0"/>
<rect x="136.3" y="149.0" width="1.0" height="1.0"/>
<rect x="83.4" y="159.9" width="1.0" height="1.0"/>
<rect x="89.0" y="141.6" width="1.0" height="1.0"/>
<rect x="138.2" y="142.1" width="1.0" height="1.0"/>
<rect x="92.1" y="158.3" width="1.0" height="1.0"/>
<rect x="91.7" y="138.0" width="1.0" height="1.0"/>
<rect x="131.9" y="169.3" width="1.0" height="1.0"/>
<rect x="151.5" y="167.2" width="1.0" height="1.0"/>
<rect x="119.1" y="159.6" width="1.0" height="1.0"/>
<rect x="92.4" y="151.1" width="1.0" height="1.0"/>
<rect x="85.8" y="165.7" width="1.0" height="1.0"/>
<rect x="115.2" y="132.1" width="1.0" height="1.0"/>
<rect x="87.3" y="149.2" width="1.0" height="1.0"/>
<rect x="150.3" y="137.2" width="1.0" height="1.0"/>
<rect x="80.4" y="130.8" width="1.0" height="1.0"/>
<rect x="108.9" y="166.4" width="1.0" height="1.0"/>
<rect x="152.7" y="168.2" width="1.0" height="1.0"/>
<rect x="82.5" y="145.4" width="1.0" height="1.0"/>
<rect x="143.1" y="134.3" width="1.0" height="1.0"/>
<rect x="97.2" y="135.2" width="1.0" height="1.0"/>
<rect x="87.5" y="137.0" width="1.0" height="1.0"/>
<rect x="121.4" y="163.5" width="1.0" height="1.0"/>
<rect x="151.1" y="149.6" width="1.0" height="1.0"/>
<rect x="74.1" y="148.9" width="1.0" height="1.0"/>
<rect x="114.7" y="129.7" width="1.0" height="1.0"/>
<rect x="126.6" y="126.8" width="1.0" height="1.0"/>
<rect x="125.2" y="166.8" width="1.0" height="1.0"/>
<rect x="65.5" y="153.2" width="1.0" height="1.0"/>
<rect x="132.7" y="145.9" width="1.0" height="1.0"/>
<rect x="131.5" y="137.4" width="1.0" height="1.0"/>
<rect x="95.9" y="142.2" width="1.0" height="1.0"/>
<rect x="140.5" y="151.4" width="1.0" height="1.0"/>
<rect x="146.4" y="162.4" width="1.0" height="1.0"/>
<rect x="96.7" y="140.6" width="1.0" height="1.0"/>
<rect x="113.4" y="165.4" width="1.0" height="1.0"/>
<rect x="153.0" y="140.9" width="1.0" height="1.0"/>
<rect x="111.4" y="166.4" width="1.0" height="1.0"/>
<rect x="132.6" y="163.4" width="1.0" height="1.0"/>
<rect x="140.1" y="148.5" width="1.0" height="1.0"/>
<rect x="131.7" y="162.4" width="1.0" height="1.0"/>
<rect x="143.1" y="154.4" width="1.0" height="1.0"/>
<rect x="100.1" y="132.4" width="1.0" height="1.0"/>
<rect x="142.2" y="154.5" width="1.0" height="1.0"/>
<rect x="96.9" y="143.9" width="1.0" height="1.0"/>
<rect x="107.6" y="131.1" width="1.0" height="1.0"/>
<rect x="118.6" y="170.0" width="1.0" height="1.0"/>
<rect x="113.7" y="167.4" width="1.0" height="1.0"/>
<rect x="92.1" y="138.9" width="1.0" height="1.0"/>
<rect x="84.5" y="159.0" width="1.0" height="1.0"/>
<rect x="130.1" y="162.5" width="1.0" height="1.0"/>
<rect x="112.4" y="129.2" width="1.0" height="1.0"/>
<rect x="100.9" y="138.5" width="1.0" height="1.0"/>
<rect x="92.2" y="151.3" width="1.0" height="1.0"/>
<rect x="110.6" y="167.1" width="1.0" height="1.0"/>
<rect x="150.3" y="128.8" width="1.0" height="1.0"/>
<rect x="134.2" y="146.2" width="1.0" height="1.0"/>
<rect x="95.2" y="167.5" width="1.0" height="1.0"/>
<rect x="113.8" y="163.8" width="1.0" height="1.0"/>
<rect x="110.1" y="167.7" width="1.0" height="1.0"/>
<rect x="91.1" y="156.1" width="1.0" height="1.0"/>
<rect x="88.2" y="154.4" width="1.0" height="1.0"/>
<rect x="152.4" y="131.5" width="1.0" height="1.0"/>
<rect x="113.4" y="134.4" width="1.0" height="1.0"/>
<rect x="142.9" y="150.1" width="1.0" height="1.0"/>
<rect x="146.0" y="153.0" width="1.0" height="1.0"/>
<rect x="92.1" y="144.2" width="1.0" height="1.0"/>
<rect x="147.9" y="134.3" width="1.0" height="1.0"/>
<rect x="139.8" y="158.6" width="1.0" height="1.0"/>
<rect x="96.2" y="145.9" width="1.0" height="1.0"/>
<rect x="146.6" y="134.5" width="1.0" height="1.0"/>
<rect x="124.9" y="157.5" width="1.0" height="1.0"/>
<rect x="155.5" y="141.5" width="1.0" height="1.0"/>
<rect x="144.6" y="160.8" width="1.0" height="1.0"/>
<rect x="99.0" y="134.3" width="1.0" height="1.0"/>
<rect x="111.5" y="131.8" width="1.0" height="1.0"/>
<rect x="141.9" y="145.2" width="1.0" height="1.0"/>
<rect x="151.0" y="152.7" width="1.0" height="1.0"/>
<rect x="146.5" y="146.6" width="1.0" height="1.0"/>
<rect x="142.5" y="156.0" width="1.0" height="1.0"/>
<rect x="99.9" y="139.5" width="1.0" height="1.0"/>
<rect x="141.8" y="147.1" width="1.0" height="1.0"/>
<rect x="112.4" y="129.8" width="1.0" height="1.0"/>
<rect x="147.5" y="146.8" width="1.0" height="1.0"/>
<rect x="118.0" y="133.8" width="1.0" height="1.0"/>
<rect x="93.4" y="156.2" width="1.0" height="1.0"/>
<rect x="149.6" y="132.4" width="1.0" height="1.0"/>
<rect x="123.2" y="157.8" width="1.0" height="1.0"/>
<rect x="74.0" y="126.4" width="1.0" height="1.0"/>
<rect x="103.8" y="135.9" width="1.0" height="1.0"/>
<rect x="93.6" y="131.1" width="1.0" height="1.0"/>
<rect x="97.7" y="169.5" width="1.0" height="1.0"/>
<rect x="87.5" y="126.7" width="1.0" height="1.0"/>
<rect x="88.2" y="164.3" width="1.0" height="1.0"/>
<rect x="146.0" y="125.7" width="1.0" height="1.0"/>
<rect x="115.4" y="127.4" width="1.0" height="1.0"/>
<rect x="70.2" y="159.5" width="1.0" height="1.0"/>
<rect x="76.4" y="138.0" width="1.0" height="1.0"/>
<rect x="155.9" y="142.4" width="1.0" height="1.0"/>
<rect x="145.9" y="144.6" width="1.0" height="1.0"/>
<rect x="100.2" y="169.9" width="1.0" height="1.0"/>
<rect x="135.5" y="123.8" width="1.0" height="1.0"/>
<rect x="86.4" y="140.4" width="1.0" height="1.0"/>
<rect x="146.3" y="156.3" width="1.0" height="1.0"/>
<rect x="97.9" y="131.5" width="1.0" height="1.0"/>
<rect x="155.4" y="132.5" width="1.0" height="1.0"/>
<rect x="149.2" y="129.2" width="1.0" height="1.0"/>
<rect x="138.2" y="163.2" width="1.0" height="1.0"/>
<rect x="81.9" y="140.5" width="1.0" height="1.0"/>
<rect x="129.9" y="138.7" width="1.0" height="1.0"/>
<rect x="74.4" y="157.9" width="1.0" height="1.0"/>
<rect x="109.3" y="126.5" width="1.0" height="1.0"/>
<rect x="69.2" y="144.6" width="1.0" height="1.0"/>
<rect x="91.4" y="160.4" width="1.0" height="1.0"/>
<rect x="79.0" y="117.4" width="1.0" height="1.0"/>
<rect x="148.0" y="139.1" width="1.0" height="1.0"/>
<rect x="143.0" y="147.3" width="1.0" height="1.0"/>
<rect x="145.5" y="167.2" width="1.0" height="1.0"/>
<rect x="72.3" y="131.6" width="1.0" height="1.0"/>
<rect x="81.4" y="168.2" width="1.0" height="1.0"/>
<rect x="128.4" y="166.5" width="1.0" height="1.0"/>
<rect x="203.7" y="185.4" width="1.0" height="1.0"/>
<rect x="196.8" y="179.3" width="1.0" height="1.0"/>
<rect x="212.1" y="180.3" width="1.0" height="1.0"/>
<rect x="189.7" y="188.8" width="1.0" height="1.0"/>
<rect x="222.4" y="182.2" width="1.0" height="1.0"/>
<rect x="229.8" y="188.8" width="1.0" height="1.0"/>
<rect x="219.9" y="184.0" width="1.0" height="1.0"/>
<rect x="204.6" y="190.3" width="1.0" height="1.0"/>
<rect x="208.7" y="192.7" width="1.0" height="1.0"/>
<rect x="154.9" y="176.2" width="1.0" height="1.0"/>
<rect x="139.0" y="178.8" width="1.0" height="1.0"/>
<rect x="122.9" y="185.6" width="1.0" height="1.0"/>
<rect x="173.6" y="189.3" width="1.0" height="1.0"/>
<rect x="195.9" y="187.2" width="1.0" height="1.0"/>
<rect x="181.9" y="189.9" width="1.0" height="1.0"/>
<rect x="159.6" y="185.2" width="1.0" height="1.0"/>
<rect x="190.6" y="185.4" width="1.0" height="1.0"/>
<rect x="172.3" y="188.9" width="1.0" height="1.0"/>
<rect x="229.6" y="191.4" width="1.0" height="1.0"/>
<rect x="179.4" y="186.0" width="1.0" height="1.0"/>
<rect x="95.1" y="192.7" width="1.0" height="1.0"/>
<rect x="219.5" y="189.2" width="1.0" height="1.0"/>
<rect x="194.3" y="185.2" width="1.0" height="1.0"/>
<rect x="191.0" y="188.6" width="1.0" height="1.0"/>
<rect x="217.8" y="191.6" width="1.0" height="1.0"/>
<rect x="206.2" y="190.8" width="1.0" height="1.0"/>
<rect x="143.6" y="195.7" width="1.0" height="1.0"/>
<rect x="154.5" y="183.4" width="1.0" height="1.0"/>
<rect x="231.7" y="179.4" width="1.0" height="1.0"/>
<rect x="233.6" y="199.3" width="1.0" height="1.0"/>
<rect x="175.7" y="188.3" width="1.0" height="1.0"/>
<rect x="172.3" y="185.9" width="1.0" height="1.0"/>
<rect x="149.3" y="179.4" width="1.0" height="1.0"/>
<rect x="244.4" y="183.5" width="1.0" height="1.0"/>
<rect x="126.7" y="190.4" width="1.0" height="1.0"/>
<rect x="177.6" y="181.9" width="1.0" height="1.0"/>
<rect x="197.7" y="183.7" width="1.0" height="1.0"/>
<rect x="215.7" y="180.8" width="1.0" height="1.0"/>
<rect x="148.5" y="182.3" width="1.0" height="1.0"/>
<rect x="190.0" y="189.0" width="1.0" height="1.0"/>
<rect x="100.0" y="193.2" width="1.0" height="1.0"/>
<rect x="84.7" y="192.4" width="1.0" height="1.0"/>
<rect x="159.3" y="193.0" width="1.0" height="1.0"/>
<rect x="131.6" y="193.2" width="1.0" height="1.0"/>
<rect x="129.1" y="200.4" width="1.0" height="1.0"/>
<rect x="112.6" y="192.9" width="1.0" height="1.0"/>
<rect x="79.7" y="199.4" width="1.0" height="1.0"/>
<rect x="81.4" y="190.4" width="1.0" height="1.0"/>
<rect x="252.8" y="243.7" width="1.0" height="1.0"/>
<rect x="232.0" y="209.6" width="1.0" height="1.0"/>
<rect x="222.2" y="221.5" width="1.0" height="1.0"/>
<rect x="224.7" y="184.2" width="1.0" height="1.0"/>
<rect x="220.8" y="219.5" width="1.0" height="1.0"/>
<rect x="209.2" y="194.9" width="1.0" height="1.0"/>
<rect x="233.2" y="248.3" width="1.0" height="1.0"/>
<rect x="234.0" y="215.1" width="1.0" height="1.0"/>
<rect x="258.6" y="193.3" width="1.0" height="1.0"/>
<rect x="221.2" y="231.4" width="1.0" height="1.0"/>
<rect x="246.6" y="223.7" width="1.0" height="1.0"/>
<rect x="240.8" y="215.4" width="1.0" height="1.0"/>
<rect x="240.8" y="242.7" width="1.0" height="1.0"/>
<rect x="232.2" y="195.8" width="1.0" height="1.0"/>
<rect x="221.5" y="203.3" width="1.0" height="1.0"/>
<rect x="215.6" y="220.0" width="1.0" height="1.0"/>
<rect x="241.8" y="223.2" width="1.0" height="1.0"/>
<rect x="215.8" y="232.3" width="1.0" height="1.0"/>
<rect x="239.8" y="173.8" width="1.0" height="1.0"/>
<rect x="215.6" y="235.7" width="1.0" height="1.0"/>
<rect x="240.6" y="201.6" width="1.0" height="1.0"/>
<rect x="219.1" y="221.4" width="1.0" height="1.0"/>
<rect x="227.4" y="229.2" width="1.0" height="1.0"/>
<rect x="229.7" y="192.7" width="1.0" height="1.0"/>
<rect x="234.3" y="207.5" width="1.0" height="1.0"/>
<rect x="211.6" y="191.2" width="1.0" height="1.0"/>
<rect x="217.4" y="215.5" width="1.0" height="1.0"/>
<rect x="242.2" y="213.9" width="1.0" height="1.0"/>
<rect x="214.6" y="206.9" width="1.0" height="1.0"/>
<rect x="239.4" y="236.0" width="1.0" height="1.0"/>
<rect x="197.6" y="175.0" width="1.0" height="1.0"/>
<rect x="155.7" y="184.7" width="1.0" height="1.0"/>
<rect x="160.0" y="177.7" width="1.0" height="1.0"/>
<rect x="135.8" y="175.5" width="1.0" height="1.0"/>
<rect x="216.2" y="174.9" width="1.0" height="1.0"/>
<rect x="150.7" y="182.5" width="1.0" height="1.0"/>
<rect x="105.6" y="175.8" width="1.0" height="1.0"/>
<rect x="126.8" y="193.1" width="1.0" height="1.0"/>
<rect x="137.8" y="192.4" width="1.0" height="1.0"/>
<rect x="155.1" y="190.0" width="1.0" height="1.0"/>
</g>
<g fill="#222">
<rect x="388.1" y="146.3" width="1.0" height="1.0"/>
<rect x="388.3" y="149.3" width="1.0" height="1.0"/>
<rect x="391.5" y="132.1" width="1.0" height="1.0"/>
<rect x="334.8" y="130.1" width="1.0" height="1.0"/>
<rect x="357.7" y="160.9" width="1.0" height="1.0"/>
<rect x="329.9" y="152.2" width="1.0" height="1.0"/>
<rect x="313.5" y="139.0" width="1.0" height="1.0"/>
<rect x="389.5" y="127.0" width="1.0" height="1.0"/>
<rect x="366.8" y="158.5" width="1.0" height="1.0"/>
<rect x="364.4" y="127.9" width="1.0" height="1.0"/>
<rect x="388.3" y="159.6" width="1.0" height="1.0"/>
<rect x="306.4" y="134.7" width="1.0" height="1.0"/>
<rect x="370.5" y="160.0" width="1.0" height="1.0"/>
<rect x="331.3" y="134.5" width="1.0" height="1.0"/>
<rect x="305.9" y="149.0" width="1.0" height="1.0"/>
<rect x="387.8" y="135.6" width="1.0" height="1.0"/>
<rect x="326.5" y="138.4" width="1.0" height="1.0"/>
<rect x="331.7" y="134.8" width="1.0" height="1.0"/>
<rect x="323.3" y="144.4" width="1.0" height="1.0"/>
<rect x="309.0" y="142.0" width="1.0" height="1.0"/>
<rect x="356.5" y="120.6" width="1.0" height="1.0"/>
<rect x="329.1" y="136.8" width="1.0" height="1.0"/>
<rect x="376.8" y="127.6" width="1.0" height="1.0"/>
<rect x="344.0" y="163.0" width="1.0" height="1.0"/>
<rect x="328.1" y="132.7" width="1.0" height="1.0"/>
<rect x="373.2" y="151.2" width="1.0" height="1.0"/>
<rect x="323.9" y="144.8" width="1.0" height="1.0"/>
<rect x="384.0" y="131.8" width="1.0" height="1.0"/>
<rect x="312.9" y="140.4" width="1.0" height="1.0"/>
<rect x="319.1" y="142.6" width="1.0" height="1.0"/>
<rect x="344.9" y="127.5" width="1.0" height="1.0"/>
<rect x="311.5" y="141.7" width="1.0" height="1.0"/>
<rect x="308.7" y="146.9" width="1.0" height="1.0"/>
<rect x="334.2" y="133.1" width="1.0" height="1.0"/>
<rect x="378.6" y="124.1" width="1.0" height="1.0"/>
<rect x="384.4" y="128.3" width="1.0" height="1.0"/>
<rect x="350.6" y="128.3" width="1.0" height="1.0"/>
<rect x="341.2" y="124.1" width="1.0" height="1.0"/>
<rect x="370.7" y="153.6" width="1.0" height="1.0"/>
<rect x="324.9" y="139.8" width="1.0" height="1.0"/>
<rect x="372.6" y="124.4" width="1.0" height="1.0"/>
<rect x="306.7" y="120.2" width="1.0" height="1.0"/>
<rect x="316.2" y="139.6" width="1.0" height="1.0"/>
<rect x="336.9" y="164.2" width="1.0" height="1.0"/>
<rect x="323.4" y="135.1" width="1.0" height="1.0"/>
<rect x="306.4" y="117.7" width="1.0" height="1.0"/>
<rect x="380.7" y="152.4" width="1.0" height="1.0"/>
<rect x="313.0" y="157.2" width="1.0" height="1.0"/>
<rect x="340.6" y="122.3" width="1.0" height="1.0"/>
<rect x="394.1" y="120.9" width="1.0" height="1.0"/>
<rect x="476.6" y="186.1" width="1.0" height="1.0"/>
<rect x="421.5" y="185.0" width="1.0" height="1.0"/>
<rect x="334.3" y="186.5" width="1.0" height="1.0"/>
<rect x="354.5" y="187.0" width="1.0" height="1.0"/>
<rect x="392.2" y="193.1" width="1.0" height="1.0"/>
<rect x="407.0" y="185.6" width="1.0" height="1.0"/>
<rect x="371.5" y="190.0" width="1.0" height="1.0"/>
<rect x="407.3" y="189.8" width="1.0" height="1.0"/>
<rect x="446.9" y="190.9" width="1.0" height="1.0"/>
<rect x="405.0" y="172.3" width="1.0" height="1.0"/>
<rect x="367.6" y="191.4" width="1.0" height="1.0"/>
<rect x="454.9" y="194.6" width="1.0" height="1.0"/>
<rect x="392.5" y="178.6" width="1.0" height="1.0"/>
<rect x="451.1" y="191.6" width="1.0" height="1.0"/>
<rect x="415.4" y="185.5" width="1.0" height="1.0"/>
<rect x="360.5" y="184.0" width="1.0" height="1.0"/>
<rect x="467.6" y="179.1" width="1.0" height="1.0"/>
<rect x="395.7" y="184.5" width="1.0" height="1.0"/>
<rect x="401.5" y="172.9" width="1.0" height="1.0"/>
<rect x="394.5" y="181.5" width="1.0" height="1.0"/>
<rect x="401.9" y="182.7" width="1.0" height="1.0"/>
<rect x="414.7" y="178.5" width="1.0" height="1.0"/>
<rect x="482.1" y="183.3" width="1.0" height="1.0"/>
<rect x="473.1" y="195.7" width="1.0" height="1.0"/>
<rect x="419.7" y="177.3" width="1.0" height="1.0"/>
<rect x="327.8" y="174.8" width="1.0" height="1.0"/>
<rect x="402.8" y="186.6" width="1.0" height="1.0"/>
<rect x="383.2" y="181.9" width="1.0" height="1.0"/>
<rect x="366.0" y="189.6" width="1.0" height="1.0"/>
<rect x="419.9" y="179.8" width="1.0" height="1.0"/>
<rect x="478.3" y="189.9" width="1.0" height="1.0"/>
<rect x="458.0" y="244.0" width="1.0" height="1.0"/>
<rect x="501.1" y="203.7" width="1.0" height="1.0"/>
<rect x="465.0" y="217.5" width="1.0" height="1.0"/>
<rect x="481.2" y="213.3" width="1.0" height="1.0"/>
<rect x="468.4" y="178.1" width="1.0" height="1.0"/>
<rect x="464.4" y="199.2" width="1.0" height="1.0"/>
<rect x="469.3" y="192.9" width="1.0" height="1.0"/>
<rect x="490.3" y="242.1" width="1.0" height="1.0"/>
<rect x="466.3" y="176.2" width="1.0" height="1.0"/>
<rect x="481.7" y="222.5" width="1.0" height="1.0"/>
<rect x="474.1" y="233.9" width="1.0" height="1.0"/>
<rect x="468.1" y="184.3" width="1.0" height="1.0"/>
<rect x="501.3" y="199.2" width="1.0" height="1.0"/>
<rect x="471.2" y="196.2" width="1.0" height="1.0"/>
<rect x="476.9" y="227.6" width="1.0" height="1.0"/>
<rect x="480.3" y="183.3" width="1.0" height="1.0"/>
<rect x="494.1" y="220.1" width="1.0" height="1.0"/>
<rect x="486.2" y="209.5" width="1.0" height="1.0"/>
<rect x="478.7" y="177.8" width="1.0" height="1.0"/>
<rect x="465.7" y="215.9" width="1.0" height="1.0"/>
<rect x="463.1" y="236.2" width="1.0" height="1.0"/>
<rect x="467.1" y="196.5" width="1.0" height="1.0"/>
<rect x="476.9" y="220.0" width="1.0" height="1.0"/>
<rect x="444.4" y="178.9" width="1.0" height="1.0"/>
<rect x="485.8" y="216.1" width="1.0" height="1.0"/>
<rect x="475.6" y="245.1" width="1.0" height="1.0"/>
<rect x="467.4" y="215.2" width="1.0" height="1.0"/>
<rect x="463.9" y="215.1" width="1.0" height="1.0"/>
<rect x="479.8" y="248.6" width="1.0" height="1.0"/>
<rect x="463.2" y="184.9" width="1.0" height="1.0"/>
<rect x="444.3" y="188.5" width="1.0" height="1.0"/>
<rect x="479.3" y="224.4" width="1.0" height="1.0"/>
<rect x="480.3" y="211.3" width="1.0" height="1.0"/>
<rect x="473.5" y="175.3" width="1.0" height="1.0"/>
<rect x="430.2" y="179.9" width="1.0" height="1.0"/>
<rect x="397.6" y="183.4" width="1.0" height="1.0"/>
<rect x="384.1" y="178.2" width="1.0" height="1.0"/>
<rect x="406.8" y="184.4" width="1.0" height="1.0"/>
<rect x="381.3" y="195.7" width="1.0" height="1.0"/>
<rect x="487.7" y="201.6" width="1.0" height="1.0"/>
<rect x="478.3" y="191.1" width="1.0" height="1.0"/>
<rect x="415.6" y="171.7" width="1.0" height="1.0"/>
<rect x="481.6" y="199.8" width="1.0" height="1.0"/>
<rect x="475.0" y="196.8" width="1.0" height="1.0"/>
<rect x="408.3" y="189.5" width="1.0" height="1.0"/>
<rect x="457.2" y="172.9" width="1.0" height="1.0"/>
<rect x="442.2" y="177.6" width="1.0" height="1.0"/>
<rect x="382.6" y="207.7" width="1.0" height="1.0"/>
</g>
</svg></body></html>
